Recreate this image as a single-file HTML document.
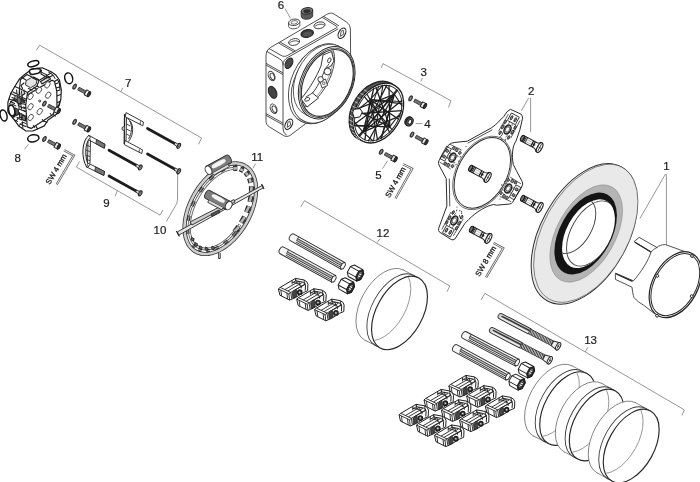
<!DOCTYPE html>
<html><head><meta charset="utf-8"><title>Exploded diagram</title>
<style>
html,body{margin:0;padding:0;background:#fff;}
body{width:700px;height:482px;overflow:hidden;font-family:"Liberation Sans",sans-serif;}
svg{display:block}
svg text{font-family:"Liberation Sans",sans-serif;fill:#1c1c1c}
svg{will-change:transform;opacity:.999}
#labels text{stroke:#1c1c1c;stroke-width:.2}
.l{stroke:#3c3c3c;stroke-width:.9;fill:none;stroke-linecap:round;stroke-linejoin:round}
.lw{stroke:#3c3c3c;stroke-width:.9;fill:#fff;stroke-linejoin:round}
.t{stroke:#555;stroke-width:.6;fill:none}
.ld{stroke:#6a6a6a;stroke-width:.7;fill:none}
.k{stroke:#222;fill:none;stroke-linecap:round}
.g{stroke:#3c3c3c;stroke-width:.8;fill:#d8d8d8;stroke-linejoin:round}
</style></head><body>
<svg width="700" height="482" viewBox="0 0 700 482">
<rect width="700" height="482" fill="#fff"/>
<g id="labels" font-size="11.500">
<!-- 7 bracket -->
<path class="ld" d="M36.300,50.300 L39.600,45.200 L201.500,138 L198.600,144.300"/>
<path class="ld" d="M121,91.500 L122.700,87.800"/>
<text x="125" y="86.800">7</text>
<!-- 9 bracket -->
<path class="ld" d="M79.500,161.400 L76.400,167.100 L160,215.100 L162.900,210"/>
<path class="ld" d="M117.300,190.600 L115.200,196.200"/>
<text x="103.200" y="207.200">9</text>
<text x="14.5" y="161.5">8</text>
<path class="ld" d="M24.300,149.400 L28.600,144.300"/>
<text x="153.600" y="234.300">10</text>
<path class="ld" d="M166.300,221.600 L176.800,203.500 L177.500,200 L177.700,174"/>
<text x="251.300" y="161">11</text>
<path class="ld" d="M255.700,163.500 L253,168.200"/>
<text x="277.800" y="8.800">6</text>
<path class="ld" d="M285,8.600 L290.600,18.400"/>
<!-- 3 bracket -->
<path class="ld" d="M381.400,67.900 L382.900,63.600 L450.900,100.700 L448.600,107.500"/>
<path class="ld" d="M420.900,81.300 L422.300,77.900"/>
<text x="420.5" y="76">3</text>
<text x="424.200" y="127.800">4</text>
<path class="ld" d="M415.700,123.600 L422.300,123.600"/>
<text x="375.300" y="178.700">5</text>
<path class="ld" d="M382.400,168.800 L387.600,160.800"/>
<text x="528" y="95">2</text>
<path class="ld" d="M528.600,97.900 L521.400,110.700"/>
<path class="ld" d="M530.600,97.900 L530.600,132"/>
<text x="663.200" y="170.100">1</text>
<path class="ld" d="M665.500,174 L639.900,218.500"/>
<path class="ld" d="M666.400,174 L666.400,245.500"/>
<!-- 12 bracket -->
<path class="ld" d="M300.700,207 L304.500,200.700 L449.800,286 L447,291.800"/>
<path class="ld" d="M377.200,242.600 L379.900,238.700"/>
<text x="376.600" y="236.600">12</text>
<!-- 13 bracket -->
<path class="ld" d="M481.100,299.900 L484.900,293.400 L684.300,409.800 L682,415.400"/>
<path class="ld" d="M585.100,351.900 L587.900,347.200"/>
<text x="584.200" y="343.500">13</text>
</g>

<g id="part1">
<!-- cup -->
<path class="lw" d="M686,252 L665.500,244.600 C661,244.500 658.500,246 657,247.500 L639.200,237.400 L634,241.600 L651,252 L649.600,256 C647,262 642,271 633.500,280.800 L615.400,273.100 L615.400,279.400 L632,287.200 C632.500,291 633,295 634,297.600 C637,301 640,303 643.400,305 L655,314 Z"/>
<path d="M635,242.200 L650.500,251.700" stroke="#222" stroke-width="1.300" fill="none"/>
<path d="M616.200,274 L632.500,281.300" stroke="#222" stroke-width="1.300" fill="none"/>
<path class="l" d="M657,247.500 C654,249 652,250.500 651,252"/>
<g transform="translate(675.300,284.700) rotate(-61)">
<ellipse class="lw" rx="35.500" ry="22.500" style="stroke:#242424;stroke-width:1.200"/>
<ellipse class="l" rx="33.500" ry="20.800" style="stroke:#2a2a2a;stroke-width:1"/>
</g>
<circle class="lw" cx="692" cy="256" r="1.400" style="stroke:#222;stroke-width:1"/>
<circle class="lw" cx="657.300" cy="275.800" r="1.400" style="stroke:#222;stroke-width:1"/>
<circle class="lw" cx="691.700" cy="296.200" r="1.400" style="stroke:#222;stroke-width:1"/>
<circle class="lw" cx="657" cy="315.700" r="1.400" style="stroke:#222;stroke-width:1"/>
<!-- disc -->
<g transform="translate(584.300,233.900) rotate(-61)">
<ellipse rx="76.500" ry="43.500" fill="#ebebeb" stroke="#2e2e2e" stroke-width="1"/>
</g>
<g transform="translate(585.800,233.300) rotate(-61)">
<ellipse rx="75.300" ry="42.600" fill="#e9e9e9" stroke="#4a4a4a" stroke-width=".6"/>
</g>
<g transform="translate(586.200,233.500) rotate(-61)">
<ellipse rx="53.200" ry="29.300" fill="#b4b4b4" stroke="#8a8a8a" stroke-width=".5"/>
</g>
<g transform="translate(585.650,233.500) rotate(-61)">
<ellipse rx="44.600" ry="25.800" fill="#141414"/>
</g>
<g transform="translate(588.500,233.700) rotate(-61)">
<ellipse rx="37.400" ry="22" fill="#fff"/>
</g>
<clipPath id="c1hole"><ellipse transform="translate(588.500,233.700) rotate(-61)" rx="37.400" ry="22"/></clipPath>
<g clip-path="url(#c1hole)">
<ellipse class="l" transform="translate(591.300,233.500) rotate(-61)" rx="35.500" ry="20.300"/>
<ellipse class="l" transform="translate(575,226) rotate(-61)" rx="30" ry="17"/>
</g>
</g>

<g id="20_ring12">
<ellipse class="l" transform="translate(383.9,305) rotate(-61)" rx="40" ry="23" style="fill:#fff;stroke:#6a6a6a;stroke-width:0.75"/>
<path d="M418.89,277.92 L403.29,270.02 L364.51,339.98 L380.11,347.88 Z" fill="#fff" stroke="none"/>
<path d="M418.89,277.92 L403.29,270.02 M380.11,347.88 L364.51,339.98" fill="none" stroke="#6a6a6a" stroke-width="0.75"/>
<ellipse class="l" transform="translate(394.82,310.53) rotate(-61)" rx="40" ry="23" style="fill:#fff;stroke:#3a3a3a;stroke-width:0.9"/>
<ellipse class="l" transform="translate(399.5,312.9) rotate(-61)" rx="40" ry="23" style="fill:#fff;stroke:#262626;stroke-width:1.15"/>
<clipPath id="rc1"><ellipse class="" transform="translate(399.5,312.9) rotate(-61)" rx="39.6" ry="22.6" /></clipPath>
<g clip-path="url(#rc1)"><ellipse class="l" transform="translate(383.9,305) rotate(-61)" rx="39" ry="22" style="stroke:#8a8a8a;stroke-width:.8"/></g>
</g>

<g id="21_ring13">
<ellipse class="l" transform="translate(552.5,400.8) rotate(-61)" rx="40" ry="23" style="fill:#fff;stroke:#6a6a6a;stroke-width:0.75"/>
<path d="M587.09,373.62 L571.89,365.82 L533.11,435.78 L548.31,443.58 Z" fill="#fff" stroke="none"/>
<path d="M587.09,373.62 L571.89,365.82 M548.31,443.58 L533.11,435.78" fill="none" stroke="#6a6a6a" stroke-width="0.75"/>
<ellipse class="l" transform="translate(563.14,406.26) rotate(-61)" rx="40" ry="23" style="fill:#fff;stroke:#3a3a3a;stroke-width:0.9"/>
<ellipse class="l" transform="translate(567.7,408.6) rotate(-61)" rx="40" ry="23" style="fill:#fff;stroke:#262626;stroke-width:1.15"/>
<clipPath id="rc2"><ellipse class="" transform="translate(567.7,408.6) rotate(-61)" rx="39.6" ry="22.6" /></clipPath>
<g clip-path="url(#rc2)"><ellipse class="l" transform="translate(552.5,400.8) rotate(-61)" rx="39" ry="22" style="stroke:#8a8a8a;stroke-width:.8"/></g><ellipse class="l" transform="translate(582.6,417.4) rotate(-61)" rx="39" ry="22.5" style="fill:#fff;stroke:#6a6a6a;stroke-width:0.75"/>
<path d="M615.51,390.89 L601.51,383.29 L563.69,451.51 L577.69,459.11 Z" fill="#fff" stroke="none"/>
<path d="M615.51,390.89 L601.51,383.29 M577.69,459.11 L563.69,451.51" fill="none" stroke="#6a6a6a" stroke-width="0.75"/>
<ellipse class="l" transform="translate(592.4,422.72) rotate(-61)" rx="39" ry="22.5" style="fill:#fff;stroke:#3a3a3a;stroke-width:0.9"/>
<ellipse class="l" transform="translate(596.6,425) rotate(-61)" rx="39" ry="22.5" style="fill:#fff;stroke:#262626;stroke-width:1.15"/>
<clipPath id="rc3"><ellipse class="" transform="translate(596.6,425) rotate(-61)" rx="38.6" ry="22.1" /></clipPath>
<g clip-path="url(#rc3)"><ellipse class="l" transform="translate(582.6,417.4) rotate(-61)" rx="38" ry="21.5" style="stroke:#8a8a8a;stroke-width:.8"/></g><ellipse class="l" transform="translate(616.2,437.7) rotate(-61)" rx="40" ry="23" style="fill:#fff;stroke:#6a6a6a;stroke-width:0.75"/>
<path d="M650.59,411.02 L635.59,402.72 L596.81,472.68 L611.81,480.98 Z" fill="#fff" stroke="none"/>
<path d="M650.59,411.02 L635.59,402.72 M611.81,480.98 L596.81,472.68" fill="none" stroke="#6a6a6a" stroke-width="0.75"/>
<ellipse class="l" transform="translate(626.7,443.51) rotate(-61)" rx="40" ry="23" style="fill:#fff;stroke:#3a3a3a;stroke-width:0.9"/>
<ellipse class="l" transform="translate(631.2,446) rotate(-61)" rx="40" ry="23" style="fill:#fff;stroke:#262626;stroke-width:1.15"/>
<clipPath id="rc4"><ellipse class="" transform="translate(631.2,446) rotate(-61)" rx="39.6" ry="22.6" /></clipPath>
<g clip-path="url(#rc4)"><ellipse class="l" transform="translate(616.2,437.7) rotate(-61)" rx="39" ry="22" style="stroke:#8a8a8a;stroke-width:.8"/></g>
</g>

<g id="30_box">
<path class="lw" d="M266,56 C266,52 267.500,49.500 270.500,47.500 L324,16.200 C327.500,13.500 331,12.200 334,14 L346.500,22 C349,23.800 350.300,26 350.400,30 L350.700,70 L330,100 L309.600,120.600 L290,135.500 C287.500,136.800 285.500,136.800 283.500,135.500 L269.500,127 C267,125.500 266,123.500 266,120.500 Z" stroke-width="1"/>
<path class="l" d="M269,48.500 L281,55.300 C283,56.500 285,56.800 287.500,55.500 L337,27.500"/>
<path class="l" d="M267,51.500 L279.500,58.800 C282,60.300 283,62 283,65 L283,127 C283,131 284,133.500 286.500,135"/>
<path class="l" d="M283,65 C283,61 285,59 288,57.300 L338,29"/>
<path class="l" d="M278.900,43.200 L293.400,51.600 M280.500,42.300 L295,50.700" stroke-width=".7"/>
<path class="l" d="M322.400,17.500 L337,26.500 M324,16.600 L338.500,25.500" stroke-width=".7"/>
<path class="l" d="M266.300,63.500 L282.800,72.800 M266.300,65.200 L282.800,74.500" stroke-width=".7"/>
<path class="l" d="M266.300,113.800 L282.800,123 M266.300,115.500 L282.800,124.800" stroke-width=".7"/>
<ellipse class="lw" cx="294.100" cy="42" rx="5.600" ry="3.300" transform="rotate(-12 294.100 42)" stroke-width=".8"/>
<path class="l" d="M289.500,43 C292,40.500 296.500,40 299,41.800" stroke-width=".6"/>
<ellipse cx="307.200" cy="33.500" rx="6.400" ry="3.900" transform="rotate(-12 307.200 33.500)" fill="#3a3a3a" stroke="#222" stroke-width="1"/>
<ellipse cx="307.400" cy="34" rx="4.500" ry="2.400" transform="rotate(-12 307.400 34)" fill="#555"/>
<ellipse class="lw" cx="319.500" cy="25.300" rx="5.600" ry="3.300" transform="rotate(-12 319.500 25.300)" stroke-width=".8"/>
<path class="l" d="M315,26.300 C317.500,24 322,23.400 324.500,25.200" stroke-width=".6"/>
<ellipse class="lw" cx="271.600" cy="76" rx="3.100" ry="5" transform="rotate(-25 271.600 76)" stroke-width=".8"/>
<ellipse class="l" cx="272.300" cy="76.500" rx="1.900" ry="3.500" transform="rotate(-25 272.300 76.500)" stroke-width=".6"/>
<ellipse cx="272.600" cy="92.300" rx="3.800" ry="6.300" transform="rotate(-25 272.600 92.300)" fill="#444" stroke="#222" stroke-width="1"/>
<ellipse class="lw" cx="273.600" cy="108.700" rx="3.100" ry="5" transform="rotate(-25 273.600 108.700)" stroke-width=".8"/>
<ellipse class="l" cx="274.300" cy="109.200" rx="1.900" ry="3.500" transform="rotate(-25 274.300 109.200)" stroke-width=".6"/>
<ellipse cx="289" cy="63.300" rx="3.300" ry="5.600" transform="rotate(28 289 63.300)" fill="#4a4a4a" stroke="#222" stroke-width="1.100"/>
<ellipse cx="342" cy="33.300" rx="3.300" ry="5.600" transform="rotate(28 342 33.300)" fill="#fff" stroke="#222" stroke-width="1.100"/>
<path class="l" d="M340.500,36 L341,31.500 L343,30 L343.800,33.500 Z" stroke-width=".6"/>
<ellipse cx="288.800" cy="124.300" rx="3.300" ry="5.600" transform="rotate(28 288.800 124.300)" fill="#fff" stroke="#222" stroke-width="1.100"/>
<path class="l" d="M287.300,127 L287.800,122.500 L289.800,121 L290.600,124.500 Z" stroke-width=".6"/>
<ellipse class="lw" transform="translate(319.9,83.8) rotate(-64.6)" rx="42" ry="28.5" />
<ellipse class="lw" transform="translate(321.5,84.6) rotate(-64.6)" rx="40.6" ry="27.4" stroke-width=".7"/>
<ellipse class="l" transform="translate(321.7,80.15) rotate(-64.6)" rx="38" ry="25.7" style="fill:#fff;stroke:#444;stroke-width:0.8"/>
<path d="M343,48.42 L338,45.82 L305.4,114.48 L310.4,117.08 Z" fill="#fff" stroke="none"/>
<path d="M343,48.42 L338,45.82 M310.4,117.08 L305.4,114.48" fill="none" stroke="#444" stroke-width="0.8"/>
<ellipse class="l" transform="translate(326.7,82.75) rotate(-64.6)" rx="38" ry="25.7" style="fill:#fff;stroke:#2a2a2a;stroke-width:1"/>
<ellipse class="l" transform="translate(327,82.85) rotate(-64.6)" rx="36.5" ry="24.5" stroke-width=".8"/>
<ellipse class="l" transform="translate(327.3,82.95) rotate(-64.6)" rx="35.2" ry="23.4" style="stroke-width:1.200;stroke:#333"/>
<clipPath id="boxin"><ellipse class="" transform="translate(327.3,82.95) rotate(-64.6)" rx="34.8" ry="23" /></clipPath>
<g clip-path="url(#boxin)"><path class="l" d="M332.79,49.4 L333.57,51.46 L334.12,53.78 L334.43,56.33 L334.5,59.09 L334.32,62.01 L333.91,65.09 L333.25,68.28 L332.37,71.54 L331.26,74.85 L329.95,78.18 L328.44,81.48 L326.74,84.73 L324.89,87.88 L322.89,90.91 L320.77,93.79 L318.54,96.48 L316.24,98.97 L313.89,101.21 L311.5,103.19 L309.11,104.89 L306.74,106.29 L304.41,107.38 L302.15,108.14 L299.98,108.57" style="stroke:#333;stroke-width:.9"/><path class="l" d="M331.29,48.7 L332.07,50.76 L332.62,53.08 L332.93,55.63 L333,58.39 L332.82,61.31 L332.41,64.39 L331.75,67.58 L330.87,70.84 L329.76,74.15 L328.45,77.48 L326.94,80.78 L325.24,84.03 L323.39,87.18 L321.39,90.21 L319.27,93.09 L317.04,95.78 L314.74,98.27 L312.39,100.51 L310,102.49 L307.61,104.19 L305.24,105.59 L302.91,106.68 L300.65,107.44 L298.48,107.87" style="stroke:#555;stroke-width:.6"/><path class="lw" d="M323,55 L331.500,51.500 L334,61 L331,66 L325,69 C322,78 317,88 312.500,93 L318.500,98 L307,107 L301,99 L305,94 C311,86 317,76 321,66 Z" style="stroke:#222;stroke-width:.9"/><ellipse cx="329.300" cy="60.300" rx="1.500" ry="2.600" transform="rotate(25 329.300 60.300)" class="lw" style="stroke:#222;stroke-width:.8"/><ellipse cx="307.200" cy="99.300" rx="2.700" ry="1.600" transform="rotate(-25 307.200 99.300)" class="lw" style="stroke:#222;stroke-width:.8"/><path class="l" d="M312.500,93 L306,97 M325,69 L329,64" style="stroke:#222;stroke-width:.8"/><path class="lw" d="M320,81.500 L325.500,79 L327.500,85.500 L322,88 Z" style="stroke:#222;stroke-width:.8"/><circle cx="327.600" cy="71.500" r="3.400" class="lw" style="stroke:#222;stroke-width:.9"/><circle cx="320.600" cy="79.300" r="2.700" class="lw" style="stroke:#222;stroke-width:.9"/><circle cx="323.800" cy="83.300" r="1.300" class="lw" style="stroke:#222;stroke-width:.7"/></g>
<path class="lw" d="M288.600,22.500 L288.600,26.500 C289.500,30 298.500,29.500 299.800,25.500 L299.800,21.800 Z" style="stroke:#444;stroke-width:.9"/>
<ellipse cx="294.200" cy="22.300" rx="5.600" ry="3.200" transform="rotate(-8 294.200 22.300)" class="lw" style="stroke:#3a3a3a;stroke-width:.9"/>
<ellipse cx="294.300" cy="22.400" rx="3.300" ry="1.700" transform="rotate(-8 294.300 22.400)" class="lw" style="stroke:#555;stroke-width:.8"/>
<path d="M301.200,11.300 L301.200,16.500 C302,20.500 311.500,20 312.700,16 L312.700,10.500 Z" fill="#5a5a5a" stroke="#333" stroke-width=".9"/>
<ellipse cx="307" cy="10.900" rx="5.800" ry="3.200" transform="rotate(-8 307 10.900)" fill="#777" stroke="#2a2a2a" stroke-width="1"/>
<ellipse cx="307" cy="11.200" rx="3.600" ry="1.900" transform="rotate(-8 307 11.200)" fill="#2e2e2e"/>
</g>

<g id="40_part3">
<ellipse class="l" transform="translate(374.8,111.2) rotate(-58.4)" rx="32.4" ry="22.6" style="fill:#555;stroke:#1e1e1e;stroke-width:1.300"/>
<ellipse class="l" transform="translate(378.2,113.1) rotate(-58.4)" rx="32.2" ry="22.4" style="fill:#fff;stroke:#1e1e1e;stroke-width:1.300"/>
<clipPath id="p3c"><ellipse class="" transform="translate(378.2,113.1) rotate(-58.4)" rx="32.2" ry="22.4" /></clipPath>
<g clip-path="url(#p3c)"><path d="M394.37,94.32 L381.36,138.61" stroke="#1e1e1e" stroke-width="1.25" fill="none"/><path d="M394.37,94.32 L368.17,141.28" stroke="#1e1e1e" stroke-width="1.25" fill="none"/><path d="M394.37,94.32 L358.5,135.98" stroke="#1e1e1e" stroke-width="1.25" fill="none"/><path d="M394.37,94.32 L354.12,124.55" stroke="#1e1e1e" stroke-width="1.25" fill="none"/><path d="M394.37,94.32 L356.54,109.07" stroke="#1e1e1e" stroke-width="1.25" fill="none"/><path d="M394.37,94.32 L384.25,84.82" stroke="#1e1e1e" stroke-width="1.1" fill="none"/><path d="M394.37,94.32 L397.9,90.22" stroke="#1e1e1e" stroke-width="1.1" fill="none"/><path d="M394.37,94.32 L402.32,106.33" stroke="#1e1e1e" stroke-width="1.1" fill="none"/><path d="M394.37,94.32 L380.52,139.02" stroke="#1e1e1e" stroke-width="1.0" fill="none"/><path d="M389.74,126.83 L354.21,125.45" stroke="#1e1e1e" stroke-width="1.25" fill="none"/><path d="M389.74,126.83 L356.18,110.05" stroke="#1e1e1e" stroke-width="1.25" fill="none"/><path d="M389.74,126.83 L364.15,96.37" stroke="#1e1e1e" stroke-width="1.25" fill="none"/><path d="M389.74,126.83 L375.88,87.18" stroke="#1e1e1e" stroke-width="1.25" fill="none"/><path d="M389.74,126.83 L388.99,85.05" stroke="#1e1e1e" stroke-width="1.25" fill="none"/><path d="M389.74,126.83 L401.63,111.21" stroke="#1e1e1e" stroke-width="1.1" fill="none"/><path d="M389.74,126.83 L392.25,129.83" stroke="#1e1e1e" stroke-width="1.1" fill="none"/><path d="M389.74,126.83 L376.31,140.62" stroke="#1e1e1e" stroke-width="1.1" fill="none"/><path d="M389.74,126.83 L354.27,125.89" stroke="#1e1e1e" stroke-width="1.0" fill="none"/><path d="M363.05,132.08 L373.79,88.27" stroke="#1e1e1e" stroke-width="1.25" fill="none"/><path d="M363.05,132.08 L387.06,84.8" stroke="#1e1e1e" stroke-width="1.25" fill="none"/><path d="M363.05,132.08 L397.13,89.38" stroke="#1e1e1e" stroke-width="1.25" fill="none"/><path d="M363.05,132.08 L402.13,100.31" stroke="#1e1e1e" stroke-width="1.25" fill="none"/><path d="M363.05,132.08 L400.39,115.65" stroke="#1e1e1e" stroke-width="1.25" fill="none"/><path d="M363.05,132.08 L373.38,141.24" stroke="#1e1e1e" stroke-width="1.1" fill="none"/><path d="M363.05,132.08 L359.27,136.82" stroke="#1e1e1e" stroke-width="1.1" fill="none"/><path d="M363.05,132.08 L354.01,121.31" stroke="#1e1e1e" stroke-width="1.1" fill="none"/><path d="M363.05,132.08 L378.83,85.97" stroke="#1e1e1e" stroke-width="1.0" fill="none"/><path d="M370.18,99.63 L402.39,103.95" stroke="#1e1e1e" stroke-width="1.25" fill="none"/><path d="M370.18,99.63 L398.83,119.56" stroke="#1e1e1e" stroke-width="1.25" fill="none"/><path d="M370.18,99.63 L389.75,132.49" stroke="#1e1e1e" stroke-width="1.25" fill="none"/><path d="M370.18,99.63 L377.57,140.23" stroke="#1e1e1e" stroke-width="1.25" fill="none"/><path d="M370.18,99.63 L364.85,140.45" stroke="#1e1e1e" stroke-width="1.25" fill="none"/><path d="M370.18,99.63 L355.69,111.53" stroke="#1e1e1e" stroke-width="1.1" fill="none"/><path d="M370.18,99.63 L366.65,93.71" stroke="#1e1e1e" stroke-width="1.1" fill="none"/><path d="M370.18,99.63 L383.02,84.96" stroke="#1e1e1e" stroke-width="1.1" fill="none"/><path d="M370.18,99.63 L402.28,101.65" stroke="#1e1e1e" stroke-width="1.0" fill="none"/><path d="M355,114.01 L401.73,110.71" stroke="#1e1e1e" stroke-width="1.3" fill="none"/><path d="M383.02,84.96 L373.38,141.24" stroke="#1e1e1e" stroke-width="1.1" fill="none"/><ellipse class="l" transform="translate(378.2,113.1) rotate(-58.4)" rx="29.95" ry="20.83" style="stroke:#1e1e1e;stroke-width:.9"/><ellipse class="l" transform="translate(378.7,113.6) rotate(-58.4)" rx="6.44" ry="4.48" style="stroke:#1e1e1e;stroke-width:.9"/></g>
<path d="M356.33,137.5 L359.73,139.4" stroke="#ddd" stroke-width="0.8" fill="none"/>
<path d="M353.81,134.97 L357.21,136.87" stroke="#ddd" stroke-width="0.8" fill="none"/>
<path d="M351.81,131.86 L355.21,133.76" stroke="#ddd" stroke-width="0.8" fill="none"/>
<path d="M350.38,128.24 L353.78,130.14" stroke="#ddd" stroke-width="0.8" fill="none"/>
<path d="M349.55,124.2 L352.95,126.1" stroke="#ddd" stroke-width="0.8" fill="none"/>
<path d="M349.34,119.84 L352.74,121.74" stroke="#ddd" stroke-width="0.8" fill="none"/>
<path d="M349.76,115.26 L353.16,117.16" stroke="#ddd" stroke-width="0.8" fill="none"/>
<path d="M350.79,110.59 L354.19,112.49" stroke="#ddd" stroke-width="0.8" fill="none"/>
<path d="M352.41,105.93 L355.81,107.83" stroke="#ddd" stroke-width="0.8" fill="none"/>
<path d="M354.59,101.4 L357.99,103.3" stroke="#ddd" stroke-width="0.8" fill="none"/>
<path d="M357.26,97.12 L360.66,99.02" stroke="#ddd" stroke-width="0.8" fill="none"/>
<path d="M360.37,93.18 L363.77,95.08" stroke="#ddd" stroke-width="0.8" fill="none"/>
<path d="M363.83,89.68 L367.23,91.58" stroke="#ddd" stroke-width="0.8" fill="none"/>
<path d="M352.600,113 L353.800,109.300 L360,108.700 L362.300,112 L360,116.800 L354.300,118 Z" fill="#fff" stroke="#1e1e1e" stroke-width="1"/>
</g>

<g id="50_plate">
<path d="M510.4,109.3 L520.8,114 Q522.6,115.5 522.6,118.2 L519.8,130.1 L516,141 C512.5,146 511.5,155 513.3,164.5 L516.2,170.3 L522,181.2 Q523,183 522.5,184.9 L520.6,189.2 L512.6,202.3 Q511.5,203.8 509.7,204 L496.6,205.2 L493.7,204.5 C487,205.5 476,212 468.6,219.6 L464.9,223.4 L454.9,239 Q453,240.5 451.2,239.5 L439.5,232.1 Q438,230.5 438.7,228.3 L446.9,205.9 L446.2,178.5 L439.5,166.1 Q438,163.5 438.7,161.1 L448.7,144.9 Q451,142.8 454.9,142.4 L467.3,141.2 L491.2,128 L495.4,124.9 L503.7,116.6 Q507,110.5 510.4,109.3 Z" fill="#fff" stroke="#2a2a2a" stroke-width="1" stroke-linejoin="round"/>
<path class="l" d="M449.300,179 L449.800,206 M468,143 L492,130" stroke-width=".8"/>
<ellipse class="l" transform="translate(482.3,172.9) rotate(-61)" rx="39.6" ry="25.8" style="stroke:#444;stroke-width:.7"/>
<ellipse class="l" transform="translate(482.3,172.9) rotate(-61)" rx="38" ry="24.4" style="fill:#fff;stroke:#2a2a2a;stroke-width:1"/>
<g transform="matrix(0.48,-0.87,0.56,0.31,507.5,129.5)" style="vector-effect:non-scaling-stroke"><circle r="4.800" fill="#cfcfcf" stroke="#1e1e1e" stroke-width="1.500" vector-effect="non-scaling-stroke"/><circle r="2.900" fill="#fff" stroke="#333" stroke-width=".8" vector-effect="non-scaling-stroke"/><rect x="8" y="-7" width="8.500" height="14" fill="none" stroke="#222" stroke-width=".9" vector-effect="non-scaling-stroke"/><ellipse cx="12.3" cy="-3.3" rx="2.3" ry="1.5" fill="#8a8a8a" stroke="#1e1e1e" stroke-width=".9" vector-effect="non-scaling-stroke"/><ellipse cx="12.3" cy="3.3" rx="2.3" ry="1.5" fill="#8a8a8a" stroke="#1e1e1e" stroke-width=".9" vector-effect="non-scaling-stroke"/><ellipse cx="0" cy="-8.6" rx="2.3" ry="1.6" fill="#8a8a8a" stroke="#1e1e1e" stroke-width=".9" vector-effect="non-scaling-stroke"/><ellipse cx="0" cy="8.6" rx="2.3" ry="1.6" fill="#8a8a8a" stroke="#1e1e1e" stroke-width=".9" vector-effect="non-scaling-stroke"/><ellipse cx="-6.5" cy="-7.6" rx="2" ry="1.5" fill="#8a8a8a" stroke="#1e1e1e" stroke-width=".9" vector-effect="non-scaling-stroke"/><ellipse cx="-6.5" cy="7.6" rx="2" ry="1.5" fill="#8a8a8a" stroke="#1e1e1e" stroke-width=".9" vector-effect="non-scaling-stroke"/><ellipse cx="5.5" cy="-8.8" rx="2" ry="1.5" fill="#8a8a8a" stroke="#1e1e1e" stroke-width=".9" vector-effect="non-scaling-stroke"/><ellipse cx="5.5" cy="8.8" rx="2" ry="1.5" fill="#8a8a8a" stroke="#1e1e1e" stroke-width=".9" vector-effect="non-scaling-stroke"/><path d="M-6,-11 L14,-10.300 M-6,11 L14,10.300 M-5,-4.500 L-7.500,-3 M-5,4.500 L-7.500,3 M5.500,-3.500 L7.500,-2 M5.500,3.500 L7.500,2" fill="none" stroke="#333" stroke-width=".8" vector-effect="non-scaling-stroke"/><circle cx="-10" cy="-4.5" r=".9" fill="#444"/><circle cx="-10" cy="4.5" r=".9" fill="#444"/><circle cx="-11.5" cy="0" r=".9" fill="#444"/></g>
<g transform="matrix(0.56,0.31,-0.48,0.87,508.2,188.5)" style="vector-effect:non-scaling-stroke"><circle r="4.800" fill="#cfcfcf" stroke="#1e1e1e" stroke-width="1.500" vector-effect="non-scaling-stroke"/><circle r="2.900" fill="#fff" stroke="#333" stroke-width=".8" vector-effect="non-scaling-stroke"/><rect x="8" y="-7" width="8.500" height="14" fill="none" stroke="#222" stroke-width=".9" vector-effect="non-scaling-stroke"/><ellipse cx="12.3" cy="-3.3" rx="2.3" ry="1.5" fill="#8a8a8a" stroke="#1e1e1e" stroke-width=".9" vector-effect="non-scaling-stroke"/><ellipse cx="12.3" cy="3.3" rx="2.3" ry="1.5" fill="#8a8a8a" stroke="#1e1e1e" stroke-width=".9" vector-effect="non-scaling-stroke"/><ellipse cx="0" cy="-8.6" rx="2.3" ry="1.6" fill="#8a8a8a" stroke="#1e1e1e" stroke-width=".9" vector-effect="non-scaling-stroke"/><ellipse cx="0" cy="8.6" rx="2.3" ry="1.6" fill="#8a8a8a" stroke="#1e1e1e" stroke-width=".9" vector-effect="non-scaling-stroke"/><ellipse cx="-6.5" cy="-7.6" rx="2" ry="1.5" fill="#8a8a8a" stroke="#1e1e1e" stroke-width=".9" vector-effect="non-scaling-stroke"/><ellipse cx="-6.5" cy="7.6" rx="2" ry="1.5" fill="#8a8a8a" stroke="#1e1e1e" stroke-width=".9" vector-effect="non-scaling-stroke"/><ellipse cx="5.5" cy="-8.8" rx="2" ry="1.5" fill="#8a8a8a" stroke="#1e1e1e" stroke-width=".9" vector-effect="non-scaling-stroke"/><ellipse cx="5.5" cy="8.8" rx="2" ry="1.5" fill="#8a8a8a" stroke="#1e1e1e" stroke-width=".9" vector-effect="non-scaling-stroke"/><path d="M-6,-11 L14,-10.300 M-6,11 L14,10.300 M-5,-4.500 L-7.500,-3 M-5,4.500 L-7.500,3 M5.500,-3.500 L7.500,-2 M5.500,3.500 L7.500,2" fill="none" stroke="#333" stroke-width=".8" vector-effect="non-scaling-stroke"/><circle cx="-10" cy="-4.5" r=".9" fill="#444"/><circle cx="-10" cy="4.5" r=".9" fill="#444"/><circle cx="-11.5" cy="0" r=".9" fill="#444"/></g>
<g transform="matrix(-0.48,0.87,-0.56,-0.31,454.3,220.5)" style="vector-effect:non-scaling-stroke"><circle r="4.800" fill="#cfcfcf" stroke="#1e1e1e" stroke-width="1.500" vector-effect="non-scaling-stroke"/><circle r="2.900" fill="#fff" stroke="#333" stroke-width=".8" vector-effect="non-scaling-stroke"/><rect x="8" y="-7" width="8.500" height="14" fill="none" stroke="#222" stroke-width=".9" vector-effect="non-scaling-stroke"/><ellipse cx="12.3" cy="-3.3" rx="2.3" ry="1.5" fill="#8a8a8a" stroke="#1e1e1e" stroke-width=".9" vector-effect="non-scaling-stroke"/><ellipse cx="12.3" cy="3.3" rx="2.3" ry="1.5" fill="#8a8a8a" stroke="#1e1e1e" stroke-width=".9" vector-effect="non-scaling-stroke"/><ellipse cx="0" cy="-8.6" rx="2.3" ry="1.6" fill="#8a8a8a" stroke="#1e1e1e" stroke-width=".9" vector-effect="non-scaling-stroke"/><ellipse cx="0" cy="8.6" rx="2.3" ry="1.6" fill="#8a8a8a" stroke="#1e1e1e" stroke-width=".9" vector-effect="non-scaling-stroke"/><ellipse cx="-6.5" cy="-7.6" rx="2" ry="1.5" fill="#8a8a8a" stroke="#1e1e1e" stroke-width=".9" vector-effect="non-scaling-stroke"/><ellipse cx="-6.5" cy="7.6" rx="2" ry="1.5" fill="#8a8a8a" stroke="#1e1e1e" stroke-width=".9" vector-effect="non-scaling-stroke"/><ellipse cx="5.5" cy="-8.8" rx="2" ry="1.5" fill="#8a8a8a" stroke="#1e1e1e" stroke-width=".9" vector-effect="non-scaling-stroke"/><ellipse cx="5.5" cy="8.8" rx="2" ry="1.5" fill="#8a8a8a" stroke="#1e1e1e" stroke-width=".9" vector-effect="non-scaling-stroke"/><path d="M-6,-11 L14,-10.300 M-6,11 L14,10.300 M-5,-4.500 L-7.500,-3 M-5,4.500 L-7.500,3 M5.500,-3.500 L7.500,-2 M5.500,3.500 L7.500,2" fill="none" stroke="#333" stroke-width=".8" vector-effect="non-scaling-stroke"/><circle cx="-10" cy="-4.5" r=".9" fill="#444"/><circle cx="-10" cy="4.5" r=".9" fill="#444"/><circle cx="-11.5" cy="0" r=".9" fill="#444"/></g>
<g transform="matrix(-0.56,-0.31,0.48,-0.87,452.5,157.5)" style="vector-effect:non-scaling-stroke"><circle r="4.800" fill="#cfcfcf" stroke="#1e1e1e" stroke-width="1.500" vector-effect="non-scaling-stroke"/><circle r="2.900" fill="#fff" stroke="#333" stroke-width=".8" vector-effect="non-scaling-stroke"/><rect x="8" y="-7" width="8.500" height="14" fill="none" stroke="#222" stroke-width=".9" vector-effect="non-scaling-stroke"/><ellipse cx="12.3" cy="-3.3" rx="2.3" ry="1.5" fill="#8a8a8a" stroke="#1e1e1e" stroke-width=".9" vector-effect="non-scaling-stroke"/><ellipse cx="12.3" cy="3.3" rx="2.3" ry="1.5" fill="#8a8a8a" stroke="#1e1e1e" stroke-width=".9" vector-effect="non-scaling-stroke"/><ellipse cx="0" cy="-8.6" rx="2.3" ry="1.6" fill="#8a8a8a" stroke="#1e1e1e" stroke-width=".9" vector-effect="non-scaling-stroke"/><ellipse cx="0" cy="8.6" rx="2.3" ry="1.6" fill="#8a8a8a" stroke="#1e1e1e" stroke-width=".9" vector-effect="non-scaling-stroke"/><ellipse cx="-6.5" cy="-7.6" rx="2" ry="1.5" fill="#8a8a8a" stroke="#1e1e1e" stroke-width=".9" vector-effect="non-scaling-stroke"/><ellipse cx="-6.5" cy="7.6" rx="2" ry="1.5" fill="#8a8a8a" stroke="#1e1e1e" stroke-width=".9" vector-effect="non-scaling-stroke"/><ellipse cx="5.5" cy="-8.8" rx="2" ry="1.5" fill="#8a8a8a" stroke="#1e1e1e" stroke-width=".9" vector-effect="non-scaling-stroke"/><ellipse cx="5.5" cy="8.8" rx="2" ry="1.5" fill="#8a8a8a" stroke="#1e1e1e" stroke-width=".9" vector-effect="non-scaling-stroke"/><path d="M-6,-11 L14,-10.300 M-6,11 L14,10.300 M-5,-4.500 L-7.500,-3 M-5,4.500 L-7.500,3 M5.500,-3.500 L7.500,-2 M5.500,3.500 L7.500,2" fill="none" stroke="#333" stroke-width=".8" vector-effect="non-scaling-stroke"/><circle cx="-10" cy="-4.5" r=".9" fill="#444"/><circle cx="-10" cy="4.5" r=".9" fill="#444"/><circle cx="-11.5" cy="0" r=".9" fill="#444"/></g>
<circle cx="501.5" cy="135.5" r=".6" fill="#333"/>
<circle cx="505.5" cy="141" r=".6" fill="#333"/>
<circle cx="461" cy="150" r=".6" fill="#333"/>
<circle cx="466" cy="146.5" r=".6" fill="#333"/>
<circle cx="457" cy="207" r=".6" fill="#333"/>
<circle cx="461.5" cy="211.5" r=".6" fill="#333"/>
<circle cx="500" cy="199" r=".6" fill="#333"/>
<circle cx="503.5" cy="194" r=".6" fill="#333"/>
</g>

<g id="51_anchors">
<g transform="translate(522.5,138.3) rotate(28.5)"><path d="M0,-3.100 L15,-3.100 C16.500,-3.300 17.500,-4.200 18,-5.200 L20,-5.200 L20,5.200 L18,5.200 C17.500,4.200 16.500,3.300 15,3.100 L0,3.100 Z" fill="#fff" stroke="#222" stroke-width="1"/><ellipse cx="0" cy="0" rx="1.700" ry="3.100" fill="#777" stroke="#1a1a1a" stroke-width="1"/><path d="M1.200,-3.100 L1.200,3.100 M2.700,-3.100 L2.700,3.100 M4.200,-3.100 L4.200,3.100" stroke="#1a1a1a" stroke-width="1"/><path d="M3.500,-1 L11,-1 M3.500,1.200 L11,1.200" stroke="#888" stroke-width=".5"/><path d="M11,-3 L11,3 M13,-3 L13,3" stroke="#1a1a1a" stroke-width="1.200"/><path d="M11,0 L14.500,0" stroke="#1a1a1a" stroke-width="1.200"/><ellipse cx="19.500" cy="0" rx="2.300" ry="5.300" fill="#fff" stroke="#1a1a1a" stroke-width="1.100"/><path d="M19.500,-4 L19.500,4 M18,0 L21,0" stroke="#333" stroke-width=".8"/></g>
<g transform="translate(470.7,168.2) rotate(28.5)"><path d="M0,-3.100 L15,-3.100 C16.500,-3.300 17.500,-4.200 18,-5.200 L20,-5.200 L20,5.200 L18,5.200 C17.500,4.200 16.500,3.300 15,3.100 L0,3.100 Z" fill="#fff" stroke="#222" stroke-width="1"/><ellipse cx="0" cy="0" rx="1.700" ry="3.100" fill="#777" stroke="#1a1a1a" stroke-width="1"/><path d="M1.200,-3.100 L1.200,3.100 M2.700,-3.100 L2.700,3.100 M4.200,-3.100 L4.200,3.100" stroke="#1a1a1a" stroke-width="1"/><path d="M3.500,-1 L11,-1 M3.500,1.200 L11,1.200" stroke="#888" stroke-width=".5"/><path d="M11,-3 L11,3 M13,-3 L13,3" stroke="#1a1a1a" stroke-width="1.200"/><path d="M11,0 L14.500,0" stroke="#1a1a1a" stroke-width="1.200"/><ellipse cx="19.500" cy="0" rx="2.300" ry="5.300" fill="#fff" stroke="#1a1a1a" stroke-width="1.100"/><path d="M19.500,-4 L19.500,4 M18,0 L21,0" stroke="#333" stroke-width=".8"/></g>
<g transform="translate(522.7,198.3) rotate(28.5)"><path d="M0,-3.100 L15,-3.100 C16.500,-3.300 17.500,-4.200 18,-5.200 L20,-5.200 L20,5.200 L18,5.200 C17.500,4.200 16.500,3.300 15,3.100 L0,3.100 Z" fill="#fff" stroke="#222" stroke-width="1"/><ellipse cx="0" cy="0" rx="1.700" ry="3.100" fill="#777" stroke="#1a1a1a" stroke-width="1"/><path d="M1.200,-3.100 L1.200,3.100 M2.700,-3.100 L2.700,3.100 M4.200,-3.100 L4.200,3.100" stroke="#1a1a1a" stroke-width="1"/><path d="M3.500,-1 L11,-1 M3.500,1.200 L11,1.200" stroke="#888" stroke-width=".5"/><path d="M11,-3 L11,3 M13,-3 L13,3" stroke="#1a1a1a" stroke-width="1.200"/><path d="M11,0 L14.500,0" stroke="#1a1a1a" stroke-width="1.200"/><ellipse cx="19.500" cy="0" rx="2.300" ry="5.300" fill="#fff" stroke="#1a1a1a" stroke-width="1.100"/><path d="M19.500,-4 L19.500,4 M18,0 L21,0" stroke="#333" stroke-width=".8"/></g>
<g transform="translate(471.5,229.2) rotate(28.5)"><path d="M0,-3.100 L15,-3.100 C16.500,-3.300 17.500,-4.200 18,-5.200 L20,-5.200 L20,5.200 L18,5.200 C17.500,4.200 16.500,3.300 15,3.100 L0,3.100 Z" fill="#fff" stroke="#222" stroke-width="1"/><ellipse cx="0" cy="0" rx="1.700" ry="3.100" fill="#777" stroke="#1a1a1a" stroke-width="1"/><path d="M1.200,-3.100 L1.200,3.100 M2.700,-3.100 L2.700,3.100 M4.200,-3.100 L4.200,3.100" stroke="#1a1a1a" stroke-width="1"/><path d="M3.500,-1 L11,-1 M3.500,1.200 L11,1.200" stroke="#888" stroke-width=".5"/><path d="M11,-3 L11,3 M13,-3 L13,3" stroke="#1a1a1a" stroke-width="1.200"/><path d="M11,0 L14.500,0" stroke="#1a1a1a" stroke-width="1.200"/><ellipse cx="19.500" cy="0" rx="2.300" ry="5.300" fill="#fff" stroke="#1a1a1a" stroke-width="1.100"/><path d="M19.500,-4 L19.500,4 M18,0 L21,0" stroke="#333" stroke-width=".8"/></g>
</g>

<g id="valve">
<!-- silhouette -->
<path d="M32.5,68.8 L42.3,67.8 L51.2,71.7 L55.500,74.700 L59.500,80 L61.300,90 L60.800,99.500 L58.500,106 L59,112 L56,114.500 L48,120 L44.300,125.900 L33,131 L25.600,130.800 L18.700,125.900 L12.800,118 L7.900,112.100 L7.900,102.200 L10.800,93.400 L14.800,86.500 L19.700,78.600 L25.600,73.700 Z" fill="#fff" stroke="#1e1e1e" stroke-width="1.200" stroke-linejoin="round"/>
<g stroke="#1e1e1e" fill="none" stroke-linecap="round" stroke-linejoin="round">
<!-- top block -->
<path d="M20.500,79.500 L27,74.500 L39,80.500 L37,86 L27.500,92.500 L19.500,88.500 Z" stroke-width="1.100" fill="#fff"/>
<path d="M26.500,80.500 L31.500,77.500 L37,80.300 L36,84.500 L30.500,87.800 L25.800,85 Z" stroke-width=".9" fill="#e4e4e4"/>
<path d="M39,80.500 L51,73 M37,86 L40,88 L52,80.500 M27.500,92.500 L27.200,95" stroke-width="1.100"/>
<path d="M42,72.500 L47,75 L46.500,77.500 M48.500,72 L53,75 L55,78.500 M44,79 L48.500,76.500" stroke-width="1"/>
<!-- left face ribs -->
<path d="M14.800,86.500 L19.500,88.500 L19,96 L25.700,99 M10.800,93.400 L15,95.500 L14.800,101 L19,103 L19,109 L25.500,111.500 M19,96 L15,95.500 M9,99 L14.800,101 M19,103 L25.600,104.500" stroke-width="1.100"/>
<path d="M16.500,90 L17,93.500 M21.500,91 L22,96 M12,104 L16,106 M21,105.500 L21.500,109 M16.500,115.500 L21,113.500 L25.500,116 M21,113.500 L21.500,120 M18.700,125.900 L22.500,122 L25.800,123.500 M14,119.500 L17.500,121.500 M22.500,122 L22.800,128" stroke-width="1"/>
<path d="M15.500,108 L18.500,109.500 L18.500,114 L15.800,116 Z" stroke-width=".9" fill="#555"/>
<path d="M21,98.500 L24.500,100 L24.500,103 L21,101.800 Z" stroke-width=".9" fill="#555"/>
<!-- right side tabs -->
<path d="M54.500,81.500 L57.500,79.500 L59.500,83.500 L60,90 L56.800,91.100 M57,96 L60.500,94.500 M57,102.500 L60,101.500 L59.500,105 L57,107 M52.900,114.400 L55.500,116 M44,121 L47,122.500 M36,126 L37.500,129 M55,84 L58,83 M56,88 L59.500,87" stroke-width="1.100"/>
</g>
<g stroke="#1e1e1e" fill="none" stroke-linecap="round" stroke-linejoin="round" stroke-width="1.100">
<path d="M9.500,104 L13,99.500 L18,101.500 L18.500,106 M12.800,118 L15.500,113.500 M25,93.500 L22,95.500 L22.300,99.500 M23.500,107 L25.500,108 M16,121 L19.500,117 L25.600,119.500 M20,124 L25.700,126.500 M13,92 L18,94.500 M24,90 L24.300,93.500"/>
<path d="M17,96.500 L21,98.500 L21,104.500 L17.300,102.800 Z" fill="#777"/>
<path d="M22,115 L25.300,116.300 L25.500,121 L22.200,119.800 Z" fill="#777"/>
<path d="M40.500,81.500 L49,76.500 L50.500,79 L42,84 Z" fill="#ddd"/>
<path d="M22,77.500 L26,80 M24,83 L21,85.500 L22.500,88.500"/>
</g>
<g stroke="#1e1e1e" fill="none" stroke-linecap="round" stroke-width="1.200">
<path d="M12,97.500 L16.500,99.500 M10.500,101.500 L14.500,103.500 M17,117.500 L20.500,119.500 M23.500,110.500 L25.500,111.300 M19.500,91 L19.800,95 M14,112 L14.300,117 M25.800,100 L23,101 M20,106.500 L24.500,108.500 M19.500,112.500 L19.700,116.500"/>
<path d="M41.500,70 L41,74 L45.500,76.500 M48,78 L52.500,75.500 M33.500,77 L38.500,79.500 M28.500,88.500 L32,90 M34,87.500 L36.500,89"/>
</g>
<!-- top port -->
<path d="M29.500,72 Q29,69.800 31.500,69.300 L38,68.500 Q40.500,68.500 40.300,70.500 Q40.500,72.500 38,73.300 L32.500,74.500 Q30,74.500 29.500,72 Z" fill="#fff" stroke="#1a1a1a" stroke-width="1.500"/>
<!-- left port -->
<ellipse cx="11.700" cy="110.500" rx="3" ry="5.500" transform="rotate(-12 11.700 110.500)" fill="#fff" stroke="#1a1a1a" stroke-width="1.700"/>
<!-- front plate -->
<path d="M27.200,95 L52.100,80.200 L54.500,81.500 L56.800,91.100 L57,107 L52.900,114.400 L31.100,128.400 L27.200,126.900 L25.700,105.100 Z" fill="#fff" stroke="#1e1e1e" stroke-width="1.200" stroke-linejoin="round"/>
<g fill="#fff" stroke="#333" stroke-width=".8">
<ellipse cx="47.400" cy="84.900" rx="2.300" ry="3.400" transform="rotate(35 47.400 84.900)"/>
<ellipse cx="38.900" cy="90.300" rx="2.300" ry="3.400" transform="rotate(35 38.900 90.300)"/>
<ellipse cx="30.500" cy="96.500" rx="2.300" ry="3.400" transform="rotate(35 30.500 96.500)"/>
<ellipse cx="48.200" cy="95.200" rx="2.300" ry="3.400" transform="rotate(35 48.200 95.200)"/>
<ellipse cx="30.500" cy="106.700" rx="2.300" ry="3.400" transform="rotate(35 30.500 106.700)"/>
<ellipse cx="39.700" cy="111.500" rx="2.300" ry="3.400" transform="rotate(35 39.700 111.500)"/>
<ellipse cx="30.700" cy="117.500" rx="2.300" ry="3.400" transform="rotate(35 30.700 117.500)"/>
</g>
<circle cx="39.700" cy="101" r="1" fill="#fff" stroke="#222" stroke-width=".9"/>
<!-- stud -->
<path d="M50,113 L52,116 M42,119 L44,122 M33,125 L35,128" stroke="#1e1e1e" stroke-width="1" fill="none"/>
<!-- o-rings -->
<g fill="none" stroke="#111" stroke-width="1.500">
<ellipse cx="33.300" cy="63.700" rx="5.700" ry="2.700" transform="rotate(-17 33.300 63.700)"/>
<ellipse cx="68.700" cy="78.300" rx="3.900" ry="5.500" transform="rotate(-15 68.700 78.300)"/>
<ellipse cx="3.600" cy="115.500" rx="3.300" ry="5.600" transform="rotate(-15 3.600 115.500)"/>
<ellipse cx="33.300" cy="138.300" rx="5.700" ry="3.500" transform="rotate(-10 33.300 138.300)"/>
</g>
</g>

<g id="61_sscrews">
<g transform="translate(48.2,105.6) rotate(28)"><ellipse cx="-4.300" cy="0" rx="1.300" ry="2.600" fill="#999" stroke="#333" stroke-width="1.300"/><rect x="0" y="-1.500" width="8" height="3" fill="#8a8a8a" stroke="#333" stroke-width=".8"/><path d="M1,-1.500 L1,1.500 M2.500,-1.500 L2.500,1.500 M4,-1.500 L4,1.500 M5.500,-1.500 L5.500,1.500 M7,-1.500 L7,1.500" stroke="#444" stroke-width=".5"/><path d="M8,-2.700 L12,-2.700 L12,2.700 L8,2.700 Z" fill="#eee" stroke="#222" stroke-width=".9"/><ellipse cx="12" cy="0" rx="1.300" ry="2.700" fill="#333" stroke="#1a1a1a" stroke-width=".9"/></g>
<g transform="translate(78.4,88.6) rotate(28)"><ellipse cx="-4.300" cy="0" rx="1.300" ry="2.600" fill="#999" stroke="#333" stroke-width="1.300"/><rect x="0" y="-1.500" width="8" height="3" fill="#8a8a8a" stroke="#333" stroke-width=".8"/><path d="M1,-1.500 L1,1.500 M2.500,-1.500 L2.500,1.500 M4,-1.500 L4,1.500 M5.500,-1.500 L5.500,1.500 M7,-1.500 L7,1.500" stroke="#444" stroke-width=".5"/><path d="M8,-2.700 L12,-2.700 L12,2.700 L8,2.700 Z" fill="#eee" stroke="#222" stroke-width=".9"/><ellipse cx="12" cy="0" rx="1.300" ry="2.700" fill="#333" stroke="#1a1a1a" stroke-width=".9"/></g>
<g transform="translate(78.4,123.9) rotate(28)"><ellipse cx="-4.300" cy="0" rx="1.300" ry="2.600" fill="#999" stroke="#333" stroke-width="1.300"/><rect x="0" y="-1.500" width="8" height="3" fill="#8a8a8a" stroke="#333" stroke-width=".8"/><path d="M1,-1.500 L1,1.500 M2.500,-1.500 L2.500,1.500 M4,-1.500 L4,1.500 M5.500,-1.500 L5.500,1.500 M7,-1.500 L7,1.500" stroke="#444" stroke-width=".5"/><path d="M8,-2.700 L12,-2.700 L12,2.700 L8,2.700 Z" fill="#eee" stroke="#222" stroke-width=".9"/><ellipse cx="12" cy="0" rx="1.300" ry="2.700" fill="#333" stroke="#1a1a1a" stroke-width=".9"/></g>
<g transform="translate(48.2,141) rotate(28)"><ellipse cx="-4.300" cy="0" rx="1.300" ry="2.600" fill="#999" stroke="#333" stroke-width="1.300"/><rect x="0" y="-1.500" width="8" height="3" fill="#8a8a8a" stroke="#333" stroke-width=".8"/><path d="M1,-1.500 L1,1.500 M2.500,-1.500 L2.500,1.500 M4,-1.500 L4,1.500 M5.500,-1.500 L5.500,1.500 M7,-1.500 L7,1.500" stroke="#444" stroke-width=".5"/><path d="M8,-2.700 L12,-2.700 L12,2.700 L8,2.700 Z" fill="#eee" stroke="#222" stroke-width=".9"/><ellipse cx="12" cy="0" rx="1.300" ry="2.700" fill="#333" stroke="#1a1a1a" stroke-width=".9"/></g>
<g transform="translate(414.4,100.4) rotate(28)"><ellipse cx="-4.300" cy="0" rx="1.300" ry="2.600" fill="#999" stroke="#333" stroke-width="1.300"/><rect x="0" y="-1.500" width="8" height="3" fill="#8a8a8a" stroke="#333" stroke-width=".8"/><path d="M1,-1.500 L1,1.500 M2.500,-1.500 L2.500,1.500 M4,-1.500 L4,1.500 M5.500,-1.500 L5.500,1.500 M7,-1.500 L7,1.500" stroke="#444" stroke-width=".5"/><path d="M8,-2.700 L12,-2.700 L12,2.700 L8,2.700 Z" fill="#eee" stroke="#222" stroke-width=".9"/><ellipse cx="12" cy="0" rx="1.300" ry="2.700" fill="#333" stroke="#1a1a1a" stroke-width=".9"/></g>
<g transform="translate(415.8,136.6) rotate(28)"><ellipse cx="-4.300" cy="0" rx="1.300" ry="2.600" fill="#999" stroke="#333" stroke-width="1.300"/><rect x="0" y="-1.500" width="8" height="3" fill="#8a8a8a" stroke="#333" stroke-width=".8"/><path d="M1,-1.500 L1,1.500 M2.500,-1.500 L2.500,1.500 M4,-1.500 L4,1.500 M5.500,-1.500 L5.500,1.500 M7,-1.500 L7,1.500" stroke="#444" stroke-width=".5"/><path d="M8,-2.700 L12,-2.700 L12,2.700 L8,2.700 Z" fill="#eee" stroke="#222" stroke-width=".9"/><ellipse cx="12" cy="0" rx="1.300" ry="2.700" fill="#333" stroke="#1a1a1a" stroke-width=".9"/></g>
<g transform="translate(385,153.8) rotate(28)"><ellipse cx="-4.300" cy="0" rx="1.300" ry="2.600" fill="#999" stroke="#333" stroke-width="1.300"/><rect x="0" y="-1.500" width="8" height="3" fill="#8a8a8a" stroke="#333" stroke-width=".8"/><path d="M1,-1.500 L1,1.500 M2.500,-1.500 L2.500,1.500 M4,-1.500 L4,1.500 M5.500,-1.500 L5.500,1.500 M7,-1.500 L7,1.500" stroke="#444" stroke-width=".5"/><path d="M8,-2.700 L12,-2.700 L12,2.700 L8,2.700 Z" fill="#eee" stroke="#222" stroke-width=".9"/><ellipse cx="12" cy="0" rx="1.300" ry="2.700" fill="#333" stroke="#1a1a1a" stroke-width=".9"/></g>
<g transform="translate(409.600,121.700) rotate(28)"><ellipse cx="-1.300" cy="0" rx="3.300" ry="4.600" fill="#444" stroke="#1e1e1e" stroke-width="1"/><ellipse cx="0" cy="0" rx="3.300" ry="4.600" fill="#5a5a5a" stroke="#1e1e1e" stroke-width="1.100"/><ellipse cx=".3" cy="0" rx="1.600" ry="2.500" fill="#fff" stroke="#1e1e1e" stroke-width=".9"/></g>
</g>

<g id="62_lscrews">
<g transform="translate(147.5,128.5) rotate(29)"><path d="M0,0 L31,0" stroke="#1c1c1c" stroke-width="2.700" stroke-linecap="round"/><path d="M31,-1.200 L33.5,-1.200 L35.5,-2.600 L35.5,2.600 L33.5,1.200 L31,1.200 Z" fill="#ddd" stroke="#222" stroke-width=".8"/><ellipse cx="35.8" cy="0" rx="1.400" ry="2.700" fill="#bbb" stroke="#1c1c1c" stroke-width="1"/><path d="M35.8,-1.500 L35.8,1.500" stroke="#333" stroke-width=".7"/></g>
<g transform="translate(147.5,154) rotate(29)"><path d="M0,0 L31,0" stroke="#1c1c1c" stroke-width="2.700" stroke-linecap="round"/><path d="M31,-1.200 L33.5,-1.200 L35.5,-2.600 L35.5,2.600 L33.5,1.200 L31,1.200 Z" fill="#ddd" stroke="#222" stroke-width=".8"/><ellipse cx="35.8" cy="0" rx="1.400" ry="2.700" fill="#bbb" stroke="#1c1c1c" stroke-width="1"/><path d="M35.8,-1.500 L35.8,1.500" stroke="#333" stroke-width=".7"/></g>
<g transform="translate(109,150.2) rotate(29)"><path d="M0,0 L31,0" stroke="#1c1c1c" stroke-width="2.700" stroke-linecap="round"/><path d="M31,-1.200 L33.5,-1.200 L35.5,-2.600 L35.5,2.600 L33.5,1.200 L31,1.200 Z" fill="#ddd" stroke="#222" stroke-width=".8"/><ellipse cx="35.8" cy="0" rx="1.400" ry="2.700" fill="#bbb" stroke="#1c1c1c" stroke-width="1"/><path d="M35.8,-1.500 L35.8,1.500" stroke="#333" stroke-width=".7"/></g>
<g transform="translate(109,176) rotate(29)"><path d="M0,0 L31,0" stroke="#1c1c1c" stroke-width="2.700" stroke-linecap="round"/><path d="M31,-1.200 L33.5,-1.200 L35.5,-2.600 L35.5,2.600 L33.5,1.200 L31,1.200 Z" fill="#ddd" stroke="#222" stroke-width=".8"/><ellipse cx="35.8" cy="0" rx="1.400" ry="2.700" fill="#bbb" stroke="#1c1c1c" stroke-width="1"/><path d="M35.8,-1.500 L35.8,1.500" stroke="#333" stroke-width=".7"/></g>
</g>

<g id="brackets" stroke-linejoin="round">
<!-- bracket 2 (lower-left) -->
<path d="M88.7,135.2 L105,144.3 L104.3,148.2 L88,139.5 Z" fill="#fff" stroke="#222" stroke-width=".9"/>
<path d="M96.500,139.600 L105,144.300 L104.300,148.200 L95.800,143.700 Z" fill="#777" stroke="#222" stroke-width=".8"/>
<path d="M87,162.500 L104.500,171.500 L103.800,175.400 L86.300,166.800 Z" fill="#fff" stroke="#222" stroke-width=".9"/>
<path d="M95.500,166.800 L104.500,171.500 L103.800,175.400 L94.800,171 Z" fill="#777" stroke="#222" stroke-width=".8"/>
<path d="M89,135.300 C82,140 80.500,158 87,167.500 L89,166 C84.500,158 84.500,143 90.500,137.300 Z" fill="#eee" stroke="#222" stroke-width="1"/>
<path d="M90.500,139.500 L90,163.500 M88,141 L87.500,162.500" stroke="#222" stroke-width=".9" fill="none"/>
<path d="M86,145 L90,146.500 M85.500,150 L90,151.500 M85.500,155 L90,156.500 M86,159.500 L90,160.500" stroke="#333" stroke-width=".9" fill="none"/>
<circle cx="88.500" cy="164.800" r="1.200" fill="#fff" stroke="#222" stroke-width=".7"/>
<!-- bracket 1 (upper-right) -->
<path d="M126,112.600 L143.500,122 L142.800,125.800 L125.300,116.800 Z" fill="#fff" stroke="#222" stroke-width=".9"/>
<path d="M125,140.500 L142.500,149.800 L141.800,153.600 L124.300,144.600 Z" fill="#fff" stroke="#222" stroke-width=".9"/>
<path d="M124.600,114 L124.200,144" stroke="#222" stroke-width="1.300" fill="none"/>
<path d="M126.500,117.500 L126,141" stroke="#222" stroke-width=".9" fill="none"/>
<path d="M127.500,118.500 C134.500,123 134,135 128.500,141.500 M129.500,121 C132.500,125 132,134 128.500,139" stroke="#222" stroke-width=".9" fill="none"/>
<path d="M126.500,124 L130,126 M126.300,129 L130.500,131 M126.200,134 L129.500,135.500" stroke="#333" stroke-width=".9" fill="none"/>
<path d="M124.300,126.500 L122,127.500 L122.300,130 L124.300,130.500" fill="#ccc" stroke="#222" stroke-width=".8"/>
<path d="M140.500,121.500 L140,124.500 M139.500,149.300 L139,152.300" stroke="#222" stroke-width=".8"/>
</g>

<g id="keys">
<g fill="none" stroke-linejoin="miter">
<path d="M64.100,150.300 L73.800,155.400 L56.700,184.500" stroke="#5a5a5a" stroke-width="2.300"/>
<path d="M64.100,150.300 L73.800,155.400 L56.700,184.500" stroke="#fff" stroke-width=".9"/>
<path d="M403,164.300 L412.100,168.800 L395.500,198.500" stroke="#5a5a5a" stroke-width="2.300"/>
<path d="M403,164.300 L412.100,168.800 L395.500,198.500" stroke="#fff" stroke-width=".9"/>
<path d="M493.500,243.100 L503.200,248.300 L486.100,277.400" stroke="#5a5a5a" stroke-width="2.300"/>
<path d="M493.500,243.100 L503.200,248.300 L486.100,277.400" stroke="#fff" stroke-width=".9"/>
</g>
<g font-size="7.700" fill="#1c1c1c" stroke="#1c1c1c" stroke-width=".3">
<text transform="translate(49.800,185) rotate(-59.600)">SW 4 mm</text>
<text transform="translate(389.400,198.200) rotate(-60.500)">SW 4 mm</text>
<text transform="translate(479.500,277) rotate(-59.800)">SW 8 mm</text>
</g>
</g>

<g id="70_ring11">
<path class="l" d="M245.27,165.96 L247.82,167.76 L250.06,170.01 L251.98,172.68 L253.54,175.75 L254.75,179.18 L255.58,182.93 L256.02,186.97 L256.07,191.24 L255.72,195.7 L254.99,200.31 L253.88,205.01 L252.41,209.74 L250.57,214.47 L248.41,219.14 L245.94,223.68 L243.19,228.07 L240.19,232.24 L236.97,236.16 L233.57,239.77 L230.02,243.05 L226.37,245.94 L222.65,248.43 L218.9,250.49 L215.17,252.08 L211.49,253.2 L207.91,253.84 L204.47,253.98 L201.2,253.62 L198.14,252.77 L195.33,251.44 L192.78,249.64 L190.54,247.39 L188.62,244.72 L187.06,241.65 L185.85,238.22 L185.02,234.47 L184.58,230.43 L184.53,226.16 L184.88,221.7 L185.61,217.09 L186.72,212.39 L188.19,207.66 L190.03,202.93 L192.19,198.26 L194.66,193.72 L197.41,189.33 L200.41,185.16 L203.63,181.24 L207.03,177.63 L210.58,174.35 L214.23,171.46 L217.95,168.97 L221.7,166.91 L225.43,165.32 L229.11,164.2 L232.69,163.56 L236.13,163.42 L239.4,163.78 L242.46,164.63 L245.27,165.96" style="stroke:#333;stroke-width:4.2;stroke-linecap:butt"/><path class="l" d="M245.27,165.96 L247.82,167.76 L250.06,170.01 L251.98,172.68 L253.54,175.75 L254.75,179.18 L255.58,182.93 L256.02,186.97 L256.07,191.24 L255.72,195.7 L254.99,200.31 L253.88,205.01 L252.41,209.74 L250.57,214.47 L248.41,219.14 L245.94,223.68 L243.19,228.07 L240.19,232.24 L236.97,236.16 L233.57,239.77 L230.02,243.05 L226.37,245.94 L222.65,248.43 L218.9,250.49 L215.17,252.08 L211.49,253.2 L207.91,253.84 L204.47,253.98 L201.2,253.62 L198.14,252.77 L195.33,251.44 L192.78,249.64 L190.54,247.39 L188.62,244.72 L187.06,241.65 L185.85,238.22 L185.02,234.47 L184.58,230.43 L184.53,226.16 L184.88,221.7 L185.61,217.09 L186.72,212.39 L188.19,207.66 L190.03,202.93 L192.19,198.26 L194.66,193.72 L197.41,189.33 L200.41,185.16 L203.63,181.24 L207.03,177.63 L210.58,174.35 L214.23,171.46 L217.95,168.97 L221.7,166.91 L225.43,165.32 L229.11,164.2 L232.69,163.56 L236.13,163.42 L239.4,163.78 L242.46,164.63 L245.27,165.96" style="stroke:#cfcfcf;stroke-width:2.6;stroke-linecap:butt"/>
<path class="l" d="M239.94,224.65 L238.13,227.3 L236.23,229.84 L234.25,232.28 L232.19,234.59 L230.07,236.77 L227.89,238.79 L225.68,240.66 L223.44,242.36 L221.18,243.88 L218.91,245.21 L216.66,246.35 L214.42,247.29 L212.22,248.03 L210.05,248.56 L207.94,248.88 L205.9,248.99 L203.93,248.88 L202.05,248.57 L200.27,248.04 L198.59,247.3 L197.03,246.36 L195.58,245.22 L194.27,243.89 L193.1,242.37 L192.07,240.67 L191.19,238.8 L190.47,236.78 L189.9,234.61 L189.49,232.3 L189.25,229.86 L189.17,227.31 L189.25,224.67 L189.5,221.94 L189.91,219.14 L190.48,216.28 L191.21,213.39 L192.1,210.47 L193.13,207.54 L194.3,204.62 L195.62,201.71 L197.06,198.85 L198.63,196.04 L200.31,193.29 L202.1,190.63 L203.98,188.06 L205.95,185.6 L207.99,183.26 L210.1,181.06 L212.27,179 L214.48,177.1 L216.71,175.37 L218.97,173.81 L221.23,172.44 L223.49,171.26 L225.73,170.28 L227.95,169.5 L230.12,168.93 L232.24,168.56 L234.3,168.41 L236.28,168.48" style="stroke:#444;stroke-width:2.9;stroke-linecap:butt"/><path class="l" d="M239.94,224.65 L238.13,227.3 L236.23,229.84 L234.25,232.28 L232.19,234.59 L230.07,236.77 L227.89,238.79 L225.68,240.66 L223.44,242.36 L221.18,243.88 L218.91,245.21 L216.66,246.35 L214.42,247.29 L212.22,248.03 L210.05,248.56 L207.94,248.88 L205.9,248.99 L203.93,248.88 L202.05,248.57 L200.27,248.04 L198.59,247.3 L197.03,246.36 L195.58,245.22 L194.27,243.89 L193.1,242.37 L192.07,240.67 L191.19,238.8 L190.47,236.78 L189.9,234.61 L189.49,232.3 L189.25,229.86 L189.17,227.31 L189.25,224.67 L189.5,221.94 L189.91,219.14 L190.48,216.28 L191.21,213.39 L192.1,210.47 L193.13,207.54 L194.3,204.62 L195.62,201.71 L197.06,198.85 L198.63,196.04 L200.31,193.29 L202.1,190.63 L203.98,188.06 L205.95,185.6 L207.99,183.26 L210.1,181.06 L212.27,179 L214.48,177.1 L216.71,175.37 L218.97,173.81 L221.23,172.44 L223.49,171.26 L225.73,170.28 L227.95,169.5 L230.12,168.93 L232.24,168.56 L234.3,168.41 L236.28,168.48" style="stroke:#ececec;stroke-width:1.5;stroke-linecap:butt"/>
<path d="M233,168.33 L237.3,168.41" stroke="#2a2a2a" stroke-width="5" fill="none"/>
<path d="M233.3,168.63 L237,168.11" stroke="#b5b5b5" stroke-width="2.600" fill="none"/>
<circle cx="235.92" cy="165.58" r="1.100" fill="#333"/>
<path d="M239.94,169.02 L243.49,170.74" stroke="#2a2a2a" stroke-width="5" fill="none"/>
<path d="M240.24,169.32 L243.19,170.44" stroke="#b5b5b5" stroke-width="2.600" fill="none"/>
<circle cx="243.11" cy="167.3" r="1.100" fill="#333"/>
<path d="M245.55,172.42 L248.11,175.66" stroke="#2a2a2a" stroke-width="5" fill="none"/>
<path d="M245.85,172.72 L247.81,175.36" stroke="#b5b5b5" stroke-width="2.600" fill="none"/>
<circle cx="248.74" cy="171.83" r="1.100" fill="#333"/>
<path d="M249.43,178.28 L250.82,182.83" stroke="#2a2a2a" stroke-width="5" fill="none"/>
<path d="M249.73,178.58 L250.52,182.53" stroke="#b5b5b5" stroke-width="2.600" fill="none"/>
<circle cx="252.43" cy="178.88" r="1.100" fill="#333"/>
<path d="M251.33,186.22 L251.46,191.76" stroke="#2a2a2a" stroke-width="5" fill="none"/>
<path d="M251.63,186.52 L251.16,191.46" stroke="#b5b5b5" stroke-width="2.600" fill="none"/>
<circle cx="253.94" cy="187.96" r="1.100" fill="#333"/>
<path d="M251.12,195.69 L249.97,201.84" stroke="#2a2a2a" stroke-width="5" fill="none"/>
<path d="M251.42,195.99 L249.67,201.54" stroke="#b5b5b5" stroke-width="2.600" fill="none"/>
<circle cx="253.15" cy="198.46" r="1.100" fill="#333"/>
<path d="M248.8,206.05 L246.47,212.4" stroke="#2a2a2a" stroke-width="5" fill="none"/>
<path d="M249.1,206.35 L246.17,212.1" stroke="#b5b5b5" stroke-width="2.600" fill="none"/>
<circle cx="250.12" cy="209.65" r="1.100" fill="#333"/>
<path d="M244.55,216.59 L241.17,222.7" stroke="#2a2a2a" stroke-width="5" fill="none"/>
<path d="M244.85,216.89 L240.87,222.4" stroke="#b5b5b5" stroke-width="2.600" fill="none"/>
<circle cx="245.06" cy="220.78" r="1.100" fill="#333"/>
<path d="M238.64,226.59 L234.46,232.04" stroke="#2a2a2a" stroke-width="5" fill="none"/>
<path d="M238.94,226.89 L234.16,231.74" stroke="#b5b5b5" stroke-width="2.600" fill="none"/>
<circle cx="238.32" cy="231.08" r="1.100" fill="#333"/>
<path d="M236.35,231.96 L232.76,236.07" stroke="#333" stroke-width="3.200" fill="none"/>
<path d="M236.35,231.96 L232.76,236.07" stroke="#aaa" stroke-width="1" fill="none"/>
<path d="M227.88,240.75 L223.95,243.85" stroke="#333" stroke-width="3.200" fill="none"/>
<path d="M227.88,240.75 L223.95,243.85" stroke="#aaa" stroke-width="1" fill="none"/>
<path d="M218.82,247.05 L214.85,248.9" stroke="#333" stroke-width="3.200" fill="none"/>
<path d="M218.82,247.05 L214.85,248.9" stroke="#aaa" stroke-width="1" fill="none"/>
<path d="M209.87,250.39 L206.17,250.84" stroke="#333" stroke-width="3.200" fill="none"/>
<path d="M209.87,250.39 L206.17,250.84" stroke="#aaa" stroke-width="1" fill="none"/>
<path d="M201.74,250.49 L198.59,249.51" stroke="#333" stroke-width="3.200" fill="none"/>
<path d="M201.74,250.49 L198.59,249.51" stroke="#aaa" stroke-width="1" fill="none"/>
<path d="M195.04,247.36 L192.69,245.02" stroke="#333" stroke-width="3.200" fill="none"/>
<path d="M195.04,247.36 L192.69,245.02" stroke="#aaa" stroke-width="1" fill="none"/>
<path d="M188.04,233.78 L187.63,229.46" stroke="#333" stroke-width="3.200" fill="none"/>
<path d="M188.04,233.78 L187.63,229.46" stroke="#aaa" stroke-width="1" fill="none"/>
<path d="M188.16,220.68 L189.13,215.66" stroke="#333" stroke-width="3.200" fill="none"/>
<path d="M188.16,220.68 L189.13,215.66" stroke="#aaa" stroke-width="1" fill="none"/>
<path d="M192.15,206.13 L194.39,201.02" stroke="#333" stroke-width="3.200" fill="none"/>
<path d="M192.15,206.13 L194.39,201.02" stroke="#aaa" stroke-width="1" fill="none"/>
<path d="M199.54,191.9 L202.78,187.31" stroke="#333" stroke-width="3.200" fill="none"/>
<path d="M199.54,191.9 L202.78,187.31" stroke="#aaa" stroke-width="1" fill="none"/>
<path d="M209.44,179.69 L213.28,176.18" stroke="#333" stroke-width="3.200" fill="none"/>
<path d="M209.44,179.69 L213.28,176.18" stroke="#aaa" stroke-width="1" fill="none"/>
<path d="M220.64,170.98 L224.62,168.97" stroke="#333" stroke-width="3.200" fill="none"/>
<path d="M220.64,170.98 L224.62,168.97" stroke="#aaa" stroke-width="1" fill="none"/>
<path d="M211.52,248.7 l2.500,1.200 l.5,-2.500 l-2.500,-1.200 Z" fill="#666" stroke="#222" stroke-width=".9"/>
<path d="M204.95,249.57 l2.500,1.200 l.5,-2.500 l-2.500,-1.200 Z" fill="#666" stroke="#222" stroke-width=".9"/>
<path d="M199.17,248.35 l2.500,1.200 l.5,-2.500 l-2.500,-1.200 Z" fill="#666" stroke="#222" stroke-width=".9"/>
<path d="M194.47,245.09 l2.500,1.200 l.5,-2.500 l-2.500,-1.200 Z" fill="#666" stroke="#222" stroke-width=".9"/>
<path d="M191.1,239.96 l2.500,1.200 l.5,-2.500 l-2.500,-1.200 Z" fill="#666" stroke="#222" stroke-width=".9"/>
<path d="M177.500,231.800 L262.500,185.300 L263.300,187.800 L178.500,235.300 Z" fill="#e6e6e6" stroke="#2a2a2a" stroke-width=".9"/>
<path d="M190,222 L234,199.500 L235,202 L192,225 Z" fill="#ccc" stroke="#2a2a2a" stroke-width=".9"/>
<path d="M176.300,231 L179.500,236.500 M261.500,184 L264,189" stroke="#2a2a2a" stroke-width="1.200"/>
<path d="M211,214 L219,210 L220,212.500 L212,216.500 Z" fill="#555" stroke="#222" stroke-width=".8"/>
<g transform="translate(208.500,170.200) rotate(-29)"><path d="M0,-4.500 L23,-4.500 C26,-4.500 26,4.500 23,4.500 L0,4.500 Z" fill="#7d7d7d" stroke="#2a2a2a" stroke-width=".9"/><path d="M5,-2.200 C8,-3.200 16,-3.200 19,-2.200 C20,-1 20,0 19,.8 C16,1.600 8,1.600 5,.8 C4,0 4,-1 5,-2.200 Z" fill="#f4f4f4"/><ellipse cx="0" cy="0" rx="3" ry="4.500" fill="#fff" stroke="#2a2a2a" stroke-width=".9"/><path d="M2,4.500 L2,7 L20,7 L20,4.500" fill="#ddd" stroke="#2a2a2a" stroke-width=".8"/></g>
<g transform="translate(207.500,194.300) rotate(28)"><path d="M0,-4.500 L24,-4.500 L24,4.500 L0,4.500 C-3,4.500 -3,-4.500 0,-4.500 Z" fill="#7d7d7d" stroke="#2a2a2a" stroke-width=".9"/><path d="M5,-2.800 C8,-3.800 15,-3.800 18,-2.800 C19,-1.600 19,-.6 18,.2 C15,1 8,1 5,.2 C4,-.6 4,-1.600 5,-2.800 Z" fill="#f4f4f4"/><ellipse cx="24" cy="0" rx="3" ry="4.500" fill="#fff" stroke="#2a2a2a" stroke-width=".9"/><path d="M4,4.500 L4,7 L20,7 L20,4.500" fill="#ddd" stroke="#2a2a2a" stroke-width=".8"/></g>
<path d="M218.500,253 L218.500,258.500 L220.300,258.500 L220.300,253" fill="#ccc" stroke="#2a2a2a" stroke-width=".8"/>
</g>

<g id="80_clips12">
<g transform="translate(278.4,288.9)"><path d="M0,0 L1.800,-1.500 L17.100,-10.500 L25.500,-9 Q29.300,-7.500 29.500,-4.600 L29.200,1.900 L24.800,3.800 L17.100,8.700 L11.200,11.200 L1.500,6.300 Z" fill="#fff" stroke="#222" stroke-width="1" stroke-linejoin="round"/><path d="M0,0 L10.500,5 L11.200,11.200 M10.500,5 L12.400,3.500 L1.800,-1.500 M12.400,3.500 L13.300,9.800 M2.500,1.300 L3.200,7.100 M8.500,4 L9.200,10.200" stroke="#222" stroke-width=".9" fill="none"/><path d="M12.400,3.500 L27,-5 M6.500,.7 L20.500,-7.500 M9.500,2 L24,-6.500 M17.100,-10.500 L18,-5.800 M25.500,-9 L26.500,-4.500 M20.500,-7.500 L21.500,-3" stroke="#222" stroke-width=".9" fill="none"/><path d="M15,2 L26.800,-4.500" stroke="#222" stroke-width="1" fill="none"/><path d="M17.400,-8.100 L24.300,-6.800 Q27,-5.500 27.100,-3.700 L26.800,1.800" stroke="#222" stroke-width="1" fill="none"/><path d="M13.700,-6.800 L20.500,-5 Q22.800,-4 23,-2.500 L22.900,-.5" stroke="#222" stroke-width=".9" fill="none"/><path d="M17.100,-10.500 L17.400,-8.100 L14,-6 M13.700,-8.500 L13.700,-4.500" stroke="#222" stroke-width=".9" fill="none"/><path d="M14,3.500 L18,1.200 L18.500,7.500 L14.500,9.500 Z" fill="#444" stroke="#222" stroke-width=".8"/><circle cx="21.300" cy="3.300" r="2.200" fill="#555" stroke="#1a1a1a" stroke-width="1.300"/><circle cx="21.300" cy="3.300" r=".8" fill="#ddd"/></g>
<g transform="translate(296.7,299.2)"><path d="M0,0 L1.800,-1.500 L17.100,-10.500 L25.500,-9 Q29.300,-7.500 29.500,-4.600 L29.200,1.900 L24.800,3.800 L17.100,8.700 L11.200,11.200 L1.500,6.300 Z" fill="#fff" stroke="#222" stroke-width="1" stroke-linejoin="round"/><path d="M0,0 L10.500,5 L11.200,11.200 M10.500,5 L12.400,3.500 L1.800,-1.500 M12.400,3.500 L13.300,9.800 M2.500,1.300 L3.200,7.100 M8.500,4 L9.200,10.200" stroke="#222" stroke-width=".9" fill="none"/><path d="M12.400,3.500 L27,-5 M6.500,.7 L20.500,-7.500 M9.500,2 L24,-6.500 M17.100,-10.500 L18,-5.800 M25.500,-9 L26.500,-4.500 M20.500,-7.500 L21.500,-3" stroke="#222" stroke-width=".9" fill="none"/><path d="M15,2 L26.800,-4.500" stroke="#222" stroke-width="1" fill="none"/><path d="M17.400,-8.100 L24.300,-6.800 Q27,-5.500 27.100,-3.700 L26.800,1.800" stroke="#222" stroke-width="1" fill="none"/><path d="M13.700,-6.800 L20.500,-5 Q22.800,-4 23,-2.500 L22.900,-.5" stroke="#222" stroke-width=".9" fill="none"/><path d="M17.100,-10.500 L17.400,-8.100 L14,-6 M13.700,-8.500 L13.700,-4.500" stroke="#222" stroke-width=".9" fill="none"/><path d="M14,3.500 L18,1.200 L18.500,7.500 L14.500,9.500 Z" fill="#444" stroke="#222" stroke-width=".8"/><circle cx="21.300" cy="3.300" r="2.200" fill="#555" stroke="#1a1a1a" stroke-width="1.300"/><circle cx="21.300" cy="3.300" r=".8" fill="#ddd"/></g>
<g transform="translate(314.6,309.6)"><path d="M0,0 L1.800,-1.500 L17.100,-10.500 L25.500,-9 Q29.300,-7.500 29.500,-4.600 L29.200,1.900 L24.800,3.800 L17.100,8.700 L11.200,11.200 L1.500,6.300 Z" fill="#fff" stroke="#222" stroke-width="1" stroke-linejoin="round"/><path d="M0,0 L10.500,5 L11.200,11.200 M10.500,5 L12.400,3.500 L1.800,-1.500 M12.400,3.500 L13.300,9.800 M2.500,1.300 L3.200,7.100 M8.500,4 L9.200,10.200" stroke="#222" stroke-width=".9" fill="none"/><path d="M12.400,3.500 L27,-5 M6.500,.7 L20.500,-7.500 M9.500,2 L24,-6.500 M17.100,-10.500 L18,-5.800 M25.500,-9 L26.500,-4.500 M20.500,-7.500 L21.500,-3" stroke="#222" stroke-width=".9" fill="none"/><path d="M15,2 L26.800,-4.500" stroke="#222" stroke-width="1" fill="none"/><path d="M17.400,-8.100 L24.300,-6.800 Q27,-5.500 27.100,-3.700 L26.800,1.800" stroke="#222" stroke-width="1" fill="none"/><path d="M13.700,-6.800 L20.500,-5 Q22.800,-4 23,-2.500 L22.900,-.5" stroke="#222" stroke-width=".9" fill="none"/><path d="M17.100,-10.500 L17.400,-8.100 L14,-6 M13.700,-8.500 L13.700,-4.500" stroke="#222" stroke-width=".9" fill="none"/><path d="M14,3.500 L18,1.200 L18.500,7.500 L14.500,9.500 Z" fill="#444" stroke="#222" stroke-width=".8"/><circle cx="21.300" cy="3.300" r="2.200" fill="#555" stroke="#1a1a1a" stroke-width="1.300"/><circle cx="21.300" cy="3.300" r=".8" fill="#ddd"/></g>
</g>

<g id="81_clips13">
<g transform="translate(448.8,385.9)"><path d="M0,0 L1.800,-1.500 L17.100,-10.500 L25.500,-9 Q29.300,-7.500 29.500,-4.600 L29.200,1.900 L24.800,3.800 L17.100,8.700 L11.200,11.200 L1.500,6.300 Z" fill="#fff" stroke="#222" stroke-width="1" stroke-linejoin="round"/><path d="M0,0 L10.500,5 L11.200,11.200 M10.500,5 L12.400,3.500 L1.800,-1.500 M12.400,3.500 L13.300,9.800 M2.500,1.300 L3.200,7.100 M8.500,4 L9.200,10.200" stroke="#222" stroke-width=".9" fill="none"/><path d="M12.400,3.500 L27,-5 M6.500,.7 L20.500,-7.500 M9.500,2 L24,-6.500 M17.100,-10.500 L18,-5.800 M25.500,-9 L26.500,-4.500 M20.500,-7.500 L21.500,-3" stroke="#222" stroke-width=".9" fill="none"/><path d="M15,2 L26.800,-4.500" stroke="#222" stroke-width="1" fill="none"/><path d="M17.400,-8.100 L24.300,-6.800 Q27,-5.500 27.100,-3.700 L26.800,1.800" stroke="#222" stroke-width="1" fill="none"/><path d="M13.700,-6.800 L20.500,-5 Q22.800,-4 23,-2.500 L22.900,-.5" stroke="#222" stroke-width=".9" fill="none"/><path d="M17.100,-10.500 L17.400,-8.100 L14,-6 M13.700,-8.500 L13.700,-4.500" stroke="#222" stroke-width=".9" fill="none"/><path d="M14,3.500 L18,1.200 L18.500,7.500 L14.500,9.500 Z" fill="#444" stroke="#222" stroke-width=".8"/><circle cx="21.300" cy="3.300" r="2.200" fill="#555" stroke="#1a1a1a" stroke-width="1.300"/><circle cx="21.300" cy="3.300" r=".8" fill="#ddd"/></g>
<g transform="translate(466.6,396.1)"><path d="M0,0 L1.800,-1.500 L17.100,-10.500 L25.500,-9 Q29.300,-7.500 29.500,-4.600 L29.200,1.900 L24.800,3.800 L17.100,8.700 L11.200,11.200 L1.500,6.300 Z" fill="#fff" stroke="#222" stroke-width="1" stroke-linejoin="round"/><path d="M0,0 L10.500,5 L11.200,11.200 M10.500,5 L12.400,3.500 L1.800,-1.500 M12.400,3.500 L13.300,9.800 M2.500,1.300 L3.200,7.100 M8.500,4 L9.200,10.200" stroke="#222" stroke-width=".9" fill="none"/><path d="M12.400,3.500 L27,-5 M6.500,.7 L20.500,-7.500 M9.500,2 L24,-6.500 M17.100,-10.500 L18,-5.800 M25.500,-9 L26.500,-4.500 M20.500,-7.500 L21.500,-3" stroke="#222" stroke-width=".9" fill="none"/><path d="M15,2 L26.800,-4.500" stroke="#222" stroke-width="1" fill="none"/><path d="M17.400,-8.100 L24.300,-6.800 Q27,-5.500 27.100,-3.700 L26.800,1.800" stroke="#222" stroke-width="1" fill="none"/><path d="M13.700,-6.800 L20.500,-5 Q22.800,-4 23,-2.500 L22.900,-.5" stroke="#222" stroke-width=".9" fill="none"/><path d="M17.100,-10.500 L17.400,-8.100 L14,-6 M13.700,-8.500 L13.700,-4.500" stroke="#222" stroke-width=".9" fill="none"/><path d="M14,3.500 L18,1.200 L18.500,7.500 L14.500,9.500 Z" fill="#444" stroke="#222" stroke-width=".8"/><circle cx="21.300" cy="3.300" r="2.200" fill="#555" stroke="#1a1a1a" stroke-width="1.300"/><circle cx="21.300" cy="3.300" r=".8" fill="#ddd"/></g>
<g transform="translate(485.3,406.4)"><path d="M0,0 L1.800,-1.500 L17.100,-10.500 L25.500,-9 Q29.300,-7.500 29.500,-4.600 L29.200,1.900 L24.800,3.800 L17.100,8.700 L11.200,11.200 L1.500,6.300 Z" fill="#fff" stroke="#222" stroke-width="1" stroke-linejoin="round"/><path d="M0,0 L10.500,5 L11.200,11.200 M10.500,5 L12.400,3.500 L1.800,-1.500 M12.400,3.500 L13.300,9.800 M2.500,1.300 L3.200,7.100 M8.500,4 L9.200,10.200" stroke="#222" stroke-width=".9" fill="none"/><path d="M12.400,3.500 L27,-5 M6.500,.7 L20.500,-7.500 M9.500,2 L24,-6.500 M17.100,-10.500 L18,-5.800 M25.500,-9 L26.500,-4.500 M20.500,-7.500 L21.500,-3" stroke="#222" stroke-width=".9" fill="none"/><path d="M15,2 L26.800,-4.500" stroke="#222" stroke-width="1" fill="none"/><path d="M17.400,-8.100 L24.300,-6.800 Q27,-5.500 27.100,-3.700 L26.800,1.800" stroke="#222" stroke-width="1" fill="none"/><path d="M13.700,-6.800 L20.500,-5 Q22.800,-4 23,-2.500 L22.900,-.5" stroke="#222" stroke-width=".9" fill="none"/><path d="M17.100,-10.500 L17.400,-8.100 L14,-6 M13.700,-8.500 L13.700,-4.500" stroke="#222" stroke-width=".9" fill="none"/><path d="M14,3.500 L18,1.200 L18.500,7.500 L14.500,9.500 Z" fill="#444" stroke="#222" stroke-width=".8"/><circle cx="21.300" cy="3.300" r="2.200" fill="#555" stroke="#1a1a1a" stroke-width="1.300"/><circle cx="21.300" cy="3.300" r=".8" fill="#ddd"/></g>
<g transform="translate(424,399.9)"><path d="M0,0 L1.800,-1.500 L17.100,-10.500 L25.500,-9 Q29.300,-7.500 29.500,-4.600 L29.200,1.900 L24.800,3.800 L17.100,8.700 L11.200,11.200 L1.500,6.300 Z" fill="#fff" stroke="#222" stroke-width="1" stroke-linejoin="round"/><path d="M0,0 L10.500,5 L11.200,11.200 M10.500,5 L12.400,3.500 L1.800,-1.500 M12.400,3.500 L13.300,9.800 M2.500,1.300 L3.200,7.100 M8.500,4 L9.200,10.200" stroke="#222" stroke-width=".9" fill="none"/><path d="M12.400,3.500 L27,-5 M6.500,.7 L20.500,-7.500 M9.500,2 L24,-6.500 M17.100,-10.500 L18,-5.800 M25.500,-9 L26.500,-4.500 M20.500,-7.500 L21.500,-3" stroke="#222" stroke-width=".9" fill="none"/><path d="M15,2 L26.800,-4.500" stroke="#222" stroke-width="1" fill="none"/><path d="M17.400,-8.100 L24.300,-6.800 Q27,-5.500 27.100,-3.700 L26.800,1.800" stroke="#222" stroke-width="1" fill="none"/><path d="M13.700,-6.800 L20.500,-5 Q22.800,-4 23,-2.500 L22.900,-.5" stroke="#222" stroke-width=".9" fill="none"/><path d="M17.100,-10.500 L17.400,-8.100 L14,-6 M13.700,-8.500 L13.700,-4.500" stroke="#222" stroke-width=".9" fill="none"/><path d="M14,3.500 L18,1.200 L18.500,7.500 L14.500,9.500 Z" fill="#444" stroke="#222" stroke-width=".8"/><circle cx="21.300" cy="3.300" r="2.200" fill="#555" stroke="#1a1a1a" stroke-width="1.300"/><circle cx="21.300" cy="3.300" r=".8" fill="#ddd"/></g>
<g transform="translate(441.4,410.2)"><path d="M0,0 L1.800,-1.500 L17.100,-10.500 L25.500,-9 Q29.300,-7.500 29.500,-4.600 L29.200,1.900 L24.800,3.800 L17.100,8.700 L11.200,11.200 L1.500,6.300 Z" fill="#fff" stroke="#222" stroke-width="1" stroke-linejoin="round"/><path d="M0,0 L10.500,5 L11.200,11.200 M10.500,5 L12.400,3.500 L1.800,-1.500 M12.400,3.500 L13.300,9.800 M2.500,1.300 L3.200,7.100 M8.500,4 L9.200,10.200" stroke="#222" stroke-width=".9" fill="none"/><path d="M12.400,3.500 L27,-5 M6.500,.7 L20.500,-7.500 M9.500,2 L24,-6.500 M17.100,-10.500 L18,-5.800 M25.500,-9 L26.500,-4.500 M20.500,-7.500 L21.500,-3" stroke="#222" stroke-width=".9" fill="none"/><path d="M15,2 L26.800,-4.500" stroke="#222" stroke-width="1" fill="none"/><path d="M17.400,-8.100 L24.300,-6.800 Q27,-5.500 27.100,-3.700 L26.800,1.800" stroke="#222" stroke-width="1" fill="none"/><path d="M13.700,-6.800 L20.500,-5 Q22.800,-4 23,-2.500 L22.900,-.5" stroke="#222" stroke-width=".9" fill="none"/><path d="M17.100,-10.500 L17.400,-8.100 L14,-6 M13.700,-8.500 L13.700,-4.500" stroke="#222" stroke-width=".9" fill="none"/><path d="M14,3.500 L18,1.200 L18.500,7.500 L14.500,9.500 Z" fill="#444" stroke="#222" stroke-width=".8"/><circle cx="21.300" cy="3.300" r="2.200" fill="#555" stroke="#1a1a1a" stroke-width="1.300"/><circle cx="21.300" cy="3.300" r=".8" fill="#ddd"/></g>
<g transform="translate(459.5,420.4)"><path d="M0,0 L1.800,-1.500 L17.100,-10.500 L25.500,-9 Q29.300,-7.500 29.500,-4.600 L29.200,1.900 L24.800,3.800 L17.100,8.700 L11.200,11.200 L1.500,6.300 Z" fill="#fff" stroke="#222" stroke-width="1" stroke-linejoin="round"/><path d="M0,0 L10.500,5 L11.200,11.200 M10.500,5 L12.400,3.500 L1.800,-1.500 M12.400,3.500 L13.300,9.800 M2.500,1.300 L3.200,7.100 M8.500,4 L9.200,10.200" stroke="#222" stroke-width=".9" fill="none"/><path d="M12.400,3.500 L27,-5 M6.500,.7 L20.500,-7.500 M9.500,2 L24,-6.500 M17.100,-10.500 L18,-5.800 M25.500,-9 L26.500,-4.500 M20.500,-7.500 L21.500,-3" stroke="#222" stroke-width=".9" fill="none"/><path d="M15,2 L26.800,-4.500" stroke="#222" stroke-width="1" fill="none"/><path d="M17.400,-8.100 L24.300,-6.800 Q27,-5.500 27.100,-3.700 L26.800,1.800" stroke="#222" stroke-width="1" fill="none"/><path d="M13.700,-6.800 L20.500,-5 Q22.800,-4 23,-2.500 L22.900,-.5" stroke="#222" stroke-width=".9" fill="none"/><path d="M17.100,-10.500 L17.400,-8.100 L14,-6 M13.700,-8.500 L13.700,-4.500" stroke="#222" stroke-width=".9" fill="none"/><path d="M14,3.500 L18,1.200 L18.500,7.500 L14.500,9.500 Z" fill="#444" stroke="#222" stroke-width=".8"/><circle cx="21.300" cy="3.300" r="2.200" fill="#555" stroke="#1a1a1a" stroke-width="1.300"/><circle cx="21.300" cy="3.300" r=".8" fill="#ddd"/></g>
<g transform="translate(399,414.8)"><path d="M0,0 L1.800,-1.500 L17.100,-10.500 L25.500,-9 Q29.300,-7.500 29.500,-4.600 L29.200,1.900 L24.800,3.800 L17.100,8.700 L11.200,11.200 L1.500,6.300 Z" fill="#fff" stroke="#222" stroke-width="1" stroke-linejoin="round"/><path d="M0,0 L10.500,5 L11.200,11.200 M10.500,5 L12.400,3.500 L1.800,-1.500 M12.400,3.500 L13.300,9.800 M2.500,1.300 L3.200,7.100 M8.500,4 L9.200,10.200" stroke="#222" stroke-width=".9" fill="none"/><path d="M12.400,3.500 L27,-5 M6.500,.7 L20.500,-7.500 M9.500,2 L24,-6.500 M17.100,-10.500 L18,-5.800 M25.500,-9 L26.500,-4.500 M20.500,-7.500 L21.500,-3" stroke="#222" stroke-width=".9" fill="none"/><path d="M15,2 L26.800,-4.500" stroke="#222" stroke-width="1" fill="none"/><path d="M17.400,-8.100 L24.300,-6.800 Q27,-5.500 27.100,-3.700 L26.800,1.800" stroke="#222" stroke-width="1" fill="none"/><path d="M13.700,-6.800 L20.500,-5 Q22.800,-4 23,-2.500 L22.900,-.5" stroke="#222" stroke-width=".9" fill="none"/><path d="M17.100,-10.500 L17.400,-8.100 L14,-6 M13.700,-8.500 L13.700,-4.500" stroke="#222" stroke-width=".9" fill="none"/><path d="M14,3.500 L18,1.200 L18.500,7.500 L14.500,9.500 Z" fill="#444" stroke="#222" stroke-width=".8"/><circle cx="21.300" cy="3.300" r="2.200" fill="#555" stroke="#1a1a1a" stroke-width="1.300"/><circle cx="21.300" cy="3.300" r=".8" fill="#ddd"/></g>
<g transform="translate(416.5,425.1)"><path d="M0,0 L1.800,-1.500 L17.100,-10.500 L25.500,-9 Q29.300,-7.500 29.500,-4.600 L29.200,1.900 L24.800,3.800 L17.100,8.700 L11.200,11.200 L1.500,6.300 Z" fill="#fff" stroke="#222" stroke-width="1" stroke-linejoin="round"/><path d="M0,0 L10.500,5 L11.200,11.200 M10.500,5 L12.400,3.500 L1.800,-1.500 M12.400,3.500 L13.300,9.800 M2.500,1.300 L3.200,7.100 M8.500,4 L9.200,10.200" stroke="#222" stroke-width=".9" fill="none"/><path d="M12.400,3.500 L27,-5 M6.500,.7 L20.500,-7.500 M9.500,2 L24,-6.500 M17.100,-10.500 L18,-5.800 M25.500,-9 L26.500,-4.500 M20.500,-7.500 L21.500,-3" stroke="#222" stroke-width=".9" fill="none"/><path d="M15,2 L26.800,-4.500" stroke="#222" stroke-width="1" fill="none"/><path d="M17.400,-8.100 L24.300,-6.800 Q27,-5.500 27.100,-3.700 L26.800,1.800" stroke="#222" stroke-width="1" fill="none"/><path d="M13.700,-6.800 L20.500,-5 Q22.800,-4 23,-2.500 L22.900,-.5" stroke="#222" stroke-width=".9" fill="none"/><path d="M17.100,-10.500 L17.400,-8.100 L14,-6 M13.700,-8.500 L13.700,-4.500" stroke="#222" stroke-width=".9" fill="none"/><path d="M14,3.500 L18,1.200 L18.500,7.500 L14.500,9.500 Z" fill="#444" stroke="#222" stroke-width=".8"/><circle cx="21.300" cy="3.300" r="2.200" fill="#555" stroke="#1a1a1a" stroke-width="1.300"/><circle cx="21.300" cy="3.300" r=".8" fill="#ddd"/></g>
<g transform="translate(434.5,435.4)"><path d="M0,0 L1.800,-1.500 L17.100,-10.500 L25.500,-9 Q29.300,-7.500 29.500,-4.600 L29.200,1.900 L24.800,3.800 L17.100,8.700 L11.200,11.200 L1.500,6.300 Z" fill="#fff" stroke="#222" stroke-width="1" stroke-linejoin="round"/><path d="M0,0 L10.500,5 L11.200,11.200 M10.500,5 L12.400,3.500 L1.800,-1.500 M12.400,3.500 L13.300,9.800 M2.500,1.300 L3.200,7.100 M8.500,4 L9.200,10.200" stroke="#222" stroke-width=".9" fill="none"/><path d="M12.400,3.500 L27,-5 M6.500,.7 L20.500,-7.500 M9.500,2 L24,-6.500 M17.100,-10.500 L18,-5.800 M25.500,-9 L26.500,-4.500 M20.500,-7.500 L21.500,-3" stroke="#222" stroke-width=".9" fill="none"/><path d="M15,2 L26.800,-4.500" stroke="#222" stroke-width="1" fill="none"/><path d="M17.400,-8.100 L24.300,-6.800 Q27,-5.500 27.100,-3.700 L26.800,1.800" stroke="#222" stroke-width="1" fill="none"/><path d="M13.700,-6.800 L20.500,-5 Q22.800,-4 23,-2.500 L22.900,-.5" stroke="#222" stroke-width=".9" fill="none"/><path d="M17.100,-10.500 L17.400,-8.100 L14,-6 M13.700,-8.500 L13.700,-4.500" stroke="#222" stroke-width=".9" fill="none"/><path d="M14,3.500 L18,1.200 L18.500,7.500 L14.500,9.500 Z" fill="#444" stroke="#222" stroke-width=".8"/><circle cx="21.300" cy="3.300" r="2.200" fill="#555" stroke="#1a1a1a" stroke-width="1.300"/><circle cx="21.300" cy="3.300" r=".8" fill="#ddd"/></g>
</g>

<g id="82_rods">
<g transform="translate(290.8,236.6) rotate(29.32)"><path d="M1.500,-3.8 L59.64,-3.8 L59.64,3.8 L1.500,3.8 Q-1,3.8 -1,0 Q-1,-3.8 1.500,-3.8 Z" fill="#f6f6f6" stroke="#2a2a2a" stroke-width=".9"/><rect x="7" y="-1.33" width="52.64" height="1.9" fill="#b8b8b8"/><path d="M7,-1.52 L59.64,-1.52 M7,0.57 L59.64,0.57 M7,2.28 L59.64,2.28" stroke="#2a2a2a" stroke-width=".8"/><path d="M7,-3.8 L7,0.57" stroke="#2a2a2a" stroke-width=".7"/><path d="M61.57,1.99 L59.84,3.99 L58.11,1.99 L58.11,-2 L59.84,-3.99 L61.57,-2 Z" fill="#fff" stroke="#2a2a2a" stroke-width=".9"/></g>
<g transform="translate(280.6,249.7) rotate(28.77)"><path d="M1.500,-3.8 L60.46,-3.8 L60.46,3.8 L1.500,3.8 Q-1,3.8 -1,0 Q-1,-3.8 1.500,-3.8 Z" fill="#f6f6f6" stroke="#2a2a2a" stroke-width=".9"/><rect x="7" y="-1.33" width="53.46" height="1.9" fill="#b8b8b8"/><path d="M7,-1.52 L60.46,-1.52 M7,0.57 L60.46,0.57 M7,2.28 L60.46,2.28" stroke="#2a2a2a" stroke-width=".8"/><path d="M7,-3.8 L7,0.57" stroke="#2a2a2a" stroke-width=".7"/><path d="M62.4,1.99 L60.66,3.99 L58.93,1.99 L58.93,-2 L60.66,-3.99 L62.4,-2 Z" fill="#fff" stroke="#2a2a2a" stroke-width=".9"/></g>
<g transform="translate(463.2,334.4) rotate(27.66)"><path d="M1.500,-3.8 L60.74,-3.8 L60.74,3.8 L1.500,3.8 Q-1,3.8 -1,0 Q-1,-3.8 1.500,-3.8 Z" fill="#f6f6f6" stroke="#2a2a2a" stroke-width=".9"/><rect x="7" y="-1.33" width="53.74" height="1.9" fill="#b8b8b8"/><path d="M7,-1.52 L60.74,-1.52 M7,0.57 L60.74,0.57 M7,2.28 L60.74,2.28" stroke="#2a2a2a" stroke-width=".8"/><path d="M7,-3.8 L7,0.57" stroke="#2a2a2a" stroke-width=".7"/><path d="M62.67,1.99 L60.94,3.99 L59.21,1.99 L59.21,-2 L60.94,-3.99 L62.67,-2 Z" fill="#fff" stroke="#2a2a2a" stroke-width=".9"/></g>
<g transform="translate(454,347.4) rotate(28.54)"><path d="M1.500,-3.8 L61.13,-3.8 L61.13,3.8 L1.500,3.8 Q-1,3.8 -1,0 Q-1,-3.8 1.500,-3.8 Z" fill="#f6f6f6" stroke="#2a2a2a" stroke-width=".9"/><rect x="7" y="-1.33" width="54.13" height="1.9" fill="#b8b8b8"/><path d="M7,-1.52 L61.13,-1.52 M7,0.57 L61.13,0.57 M7,2.28 L61.13,2.28" stroke="#2a2a2a" stroke-width=".8"/><path d="M7,-3.8 L7,0.57" stroke="#2a2a2a" stroke-width=".7"/><path d="M63.06,1.99 L61.33,3.99 L59.59,1.99 L59.59,-2 L61.33,-3.99 L63.06,-2 Z" fill="#fff" stroke="#2a2a2a" stroke-width=".9"/></g>
<g transform="translate(359.7,275.3) rotate(28.5)"><path d="M0,-6.5 L-9.5,-6.5 L-12.31,-3.25 L-12.31,3.25 L-9.5,6.5 L0,6.5 L2.81,3.25 L2.81,-3.25 Z" fill="#fff" stroke="#222" stroke-width="1" stroke-linejoin="round"/><path d="M-2.81,-3.25 L-12.31,-3.25 M-2.81,3.25 L-12.31,3.25" stroke="#222" stroke-width=".9"/><path d="M0,-6.5 L2.81,-3.25 L2.81,3.25 L0,6.5 L-2.81,3.25 L-2.81,-3.25 Z" fill="#2c2c2c" stroke="#1a1a1a" stroke-width="1" stroke-linejoin="round"/><ellipse cx="0" cy="0" rx="1.300" ry="3.300" fill="#eee"/><path d="M-1.800,-2.200 L1.800,-2.200 M-2,0 L2,0 M-1.800,2.200 L1.800,2.200" stroke="#2c2c2c" stroke-width=".9"/></g>
<g transform="translate(350.5,288) rotate(28.5)"><path d="M0,-6.5 L-9.5,-6.5 L-12.31,-3.25 L-12.31,3.25 L-9.5,6.5 L0,6.5 L2.81,3.25 L2.81,-3.25 Z" fill="#fff" stroke="#222" stroke-width="1" stroke-linejoin="round"/><path d="M-2.81,-3.25 L-12.31,-3.25 M-2.81,3.25 L-12.31,3.25" stroke="#222" stroke-width=".9"/><path d="M0,-6.5 L2.81,-3.25 L2.81,3.25 L0,6.5 L-2.81,3.25 L-2.81,-3.25 Z" fill="#2c2c2c" stroke="#1a1a1a" stroke-width="1" stroke-linejoin="round"/><ellipse cx="0" cy="0" rx="1.300" ry="3.300" fill="#eee"/><path d="M-1.800,-2.200 L1.800,-2.200 M-2,0 L2,0 M-1.800,2.200 L1.800,2.200" stroke="#2c2c2c" stroke-width=".9"/></g>
<g transform="translate(530.6,372.2) rotate(28.5)"><path d="M0,-6.5 L-9.5,-6.5 L-12.31,-3.25 L-12.31,3.25 L-9.5,6.5 L0,6.5 L2.81,3.25 L2.81,-3.25 Z" fill="#fff" stroke="#222" stroke-width="1" stroke-linejoin="round"/><path d="M-2.81,-3.25 L-12.31,-3.25 M-2.81,3.25 L-12.31,3.25" stroke="#222" stroke-width=".9"/><path d="M0,-6.5 L2.81,-3.25 L2.81,3.25 L0,6.5 L-2.81,3.25 L-2.81,-3.25 Z" fill="#2c2c2c" stroke="#1a1a1a" stroke-width="1" stroke-linejoin="round"/><ellipse cx="0" cy="0" rx="1.300" ry="3.300" fill="#eee"/><path d="M-1.800,-2.200 L1.800,-2.200 M-2,0 L2,0 M-1.800,2.200 L1.800,2.200" stroke="#2c2c2c" stroke-width=".9"/></g>
<g transform="translate(521.2,384.4) rotate(28.5)"><path d="M0,-6.5 L-9.5,-6.5 L-12.31,-3.25 L-12.31,3.25 L-9.5,6.5 L0,6.5 L2.81,3.25 L2.81,-3.25 Z" fill="#fff" stroke="#222" stroke-width="1" stroke-linejoin="round"/><path d="M-2.81,-3.25 L-12.31,-3.25 M-2.81,3.25 L-12.31,3.25" stroke="#222" stroke-width=".9"/><path d="M0,-6.5 L2.81,-3.25 L2.81,3.25 L0,6.5 L-2.81,3.25 L-2.81,-3.25 Z" fill="#2c2c2c" stroke="#1a1a1a" stroke-width="1" stroke-linejoin="round"/><ellipse cx="0" cy="0" rx="1.300" ry="3.300" fill="#eee"/><path d="M-1.800,-2.200 L1.800,-2.200 M-2,0 L2,0 M-1.800,2.200 L1.800,2.200" stroke="#2c2c2c" stroke-width=".9"/></g>
</g>

<g id="83_spscrews">
<g transform="translate(499.5,315.7) rotate(27.55)"><path d="M1.500,-2.9 L33.84,-2.9 L33.84,2.9 L1.500,2.9 Q-1.200,2.9 -1.200,0 Q-1.200,-2.9 1.500,-2.9 Z" fill="#d2d2d2" stroke="#2a2a2a" stroke-width=".9"/><path d="M2,-.6 L33.84,-.6" stroke="#3a3a3a" stroke-width="1.600"/><path d="M2,1.400 L33.84,1.400" stroke="#f4f4f4" stroke-width="1"/><rect x="33.84" y="-2.6" width="25.84" height="5.2" fill="#e8e8e8" stroke="#2a2a2a" stroke-width=".7"/><path d="M34.64,-2.6 L35.44,2.6 M36.24,-2.6 L37.04,2.6 M37.84,-2.6 L38.64,2.6 M39.44,-2.6 L40.24,2.6 M41.04,-2.6 L41.84,2.6 M42.64,-2.6 L43.44,2.6 M44.24,-2.6 L45.04,2.6 M45.84,-2.6 L46.64,2.6 M47.44,-2.6 L48.24,2.6 M49.04,-2.6 L49.84,2.6 M50.64,-2.6 L51.44,2.6 M52.24,-2.6 L53.04,2.6 M53.84,-2.6 L54.64,2.6 M55.44,-2.6 L56.24,2.6 M57.04,-2.6 L57.84,2.6 M58.64,-2.6 L59.44,2.6 " stroke="#2a2a2a" stroke-width=".8"/><path d="M59.67,-2.6 L66.17,-4 L66.17,4 L59.67,2.6 Z" fill="#eee" stroke="#2a2a2a" stroke-width=".9"/><ellipse cx="66.17" cy="0" rx="2" ry="4.100" fill="#fff" stroke="#222" stroke-width="1"/><path d="M66.17,-2.800 L66.17,2.800 M64.67,0 L67.67,0" stroke="#333" stroke-width=".8"/></g>
<g transform="translate(490.8,329.7) rotate(27.43)"><path d="M1.500,-2.9 L33.97,-2.9 L33.97,2.9 L1.500,2.9 Q-1.200,2.9 -1.200,0 Q-1.200,-2.9 1.500,-2.9 Z" fill="#d2d2d2" stroke="#2a2a2a" stroke-width=".9"/><path d="M2,-.6 L33.97,-.6" stroke="#3a3a3a" stroke-width="1.600"/><path d="M2,1.400 L33.97,1.400" stroke="#f4f4f4" stroke-width="1"/><rect x="33.97" y="-2.6" width="25.97" height="5.2" fill="#e8e8e8" stroke="#2a2a2a" stroke-width=".7"/><path d="M34.77,-2.6 L35.57,2.6 M36.37,-2.6 L37.17,2.6 M37.97,-2.6 L38.77,2.6 M39.57,-2.6 L40.37,2.6 M41.17,-2.6 L41.97,2.6 M42.77,-2.6 L43.57,2.6 M44.37,-2.6 L45.17,2.6 M45.97,-2.6 L46.77,2.6 M47.57,-2.6 L48.37,2.6 M49.17,-2.6 L49.97,2.6 M50.77,-2.6 L51.57,2.6 M52.37,-2.6 L53.17,2.6 M53.97,-2.6 L54.77,2.6 M55.57,-2.6 L56.37,2.6 M57.17,-2.6 L57.97,2.6 M58.77,-2.6 L59.57,2.6 " stroke="#2a2a2a" stroke-width=".8"/><path d="M59.94,-2.6 L66.44,-4 L66.44,4 L59.94,2.6 Z" fill="#eee" stroke="#2a2a2a" stroke-width=".9"/><ellipse cx="66.44" cy="0" rx="2" ry="4.100" fill="#fff" stroke="#222" stroke-width="1"/><path d="M66.44,-2.800 L66.44,2.800 M64.94,0 L67.94,0" stroke="#333" stroke-width=".8"/></g>
</g>

</svg>
</body></html>
